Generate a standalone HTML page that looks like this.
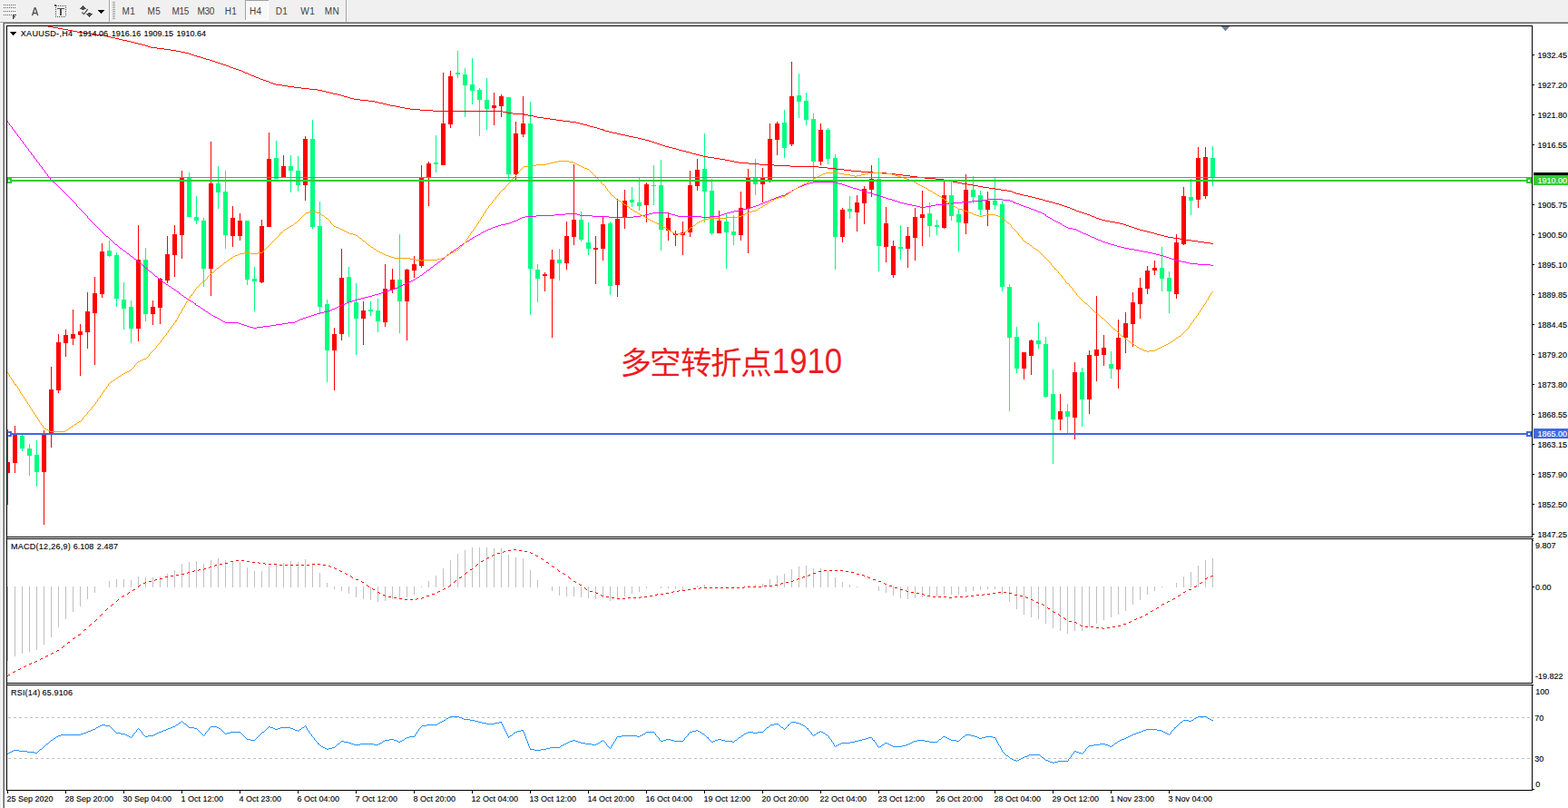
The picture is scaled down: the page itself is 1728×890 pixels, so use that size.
<!DOCTYPE html>
<html><head><meta charset="utf-8"><title>XAUUSD H4</title>
<style>
html,body{margin:0;padding:0;background:#fff;}
body{width:1728px;height:890px;overflow:hidden;font-family:"Liberation Sans",sans-serif;}
svg{display:block;position:absolute;left:0;top:0;}
text{font-family:"Liberation Sans",sans-serif;}
.t9{font-size:9px;fill:#000;stroke:#000;stroke-width:0.12px;}
.tb{font-size:10px;fill:#404040;letter-spacing:0.35px;}
</style></head><body>
<svg width="1728" height="890" viewBox="0 0 1728 890">
<rect width="1728" height="890" fill="#fff"/>
<g shape-rendering="crispEdges">
<rect x="0" y="0" width="1728" height="24" fill="#f0f0f0"/>
<rect x="0" y="23" width="1728" height="1" fill="#f5f5f5"/>
<rect x="0" y="24" width="1728" height="1" fill="#a0a0a0"/>
<rect x="4" y="25" width="1724" height="1" fill="#696969"/>
<rect x="0" y="26" width="2" height="864" fill="#f0f0f0"/>
<rect x="3" y="24" width="1" height="866" fill="#a0a0a0"/>
<rect x="4" y="25" width="1" height="865" fill="#696969"/>
<rect x="120" y="0" width="1" height="24" fill="#a0a0a0"/><rect x="121" y="0" width="1" height="24" fill="#fff"/>
<rect x="381" y="0" width="1" height="24" fill="#a0a0a0"/><rect x="382" y="0" width="1" height="24" fill="#fff"/>
<rect x="124" y="2" width="3" height="1" fill="#a0a0a0"/><rect x="124" y="4" width="3" height="1" fill="#a0a0a0"/><rect x="124" y="6" width="3" height="1" fill="#a0a0a0"/><rect x="124" y="8" width="3" height="1" fill="#a0a0a0"/><rect x="124" y="10" width="3" height="1" fill="#a0a0a0"/><rect x="124" y="12" width="3" height="1" fill="#a0a0a0"/><rect x="124" y="14" width="3" height="1" fill="#a0a0a0"/><rect x="124" y="16" width="3" height="1" fill="#a0a0a0"/><rect x="124" y="18" width="3" height="1" fill="#a0a0a0"/><rect x="124" y="20" width="3" height="1" fill="#a0a0a0"/>
<rect x="270" y="0" width="26" height="22" fill="#f8f8f8"/>
<rect x="270" y="0" width="1" height="22" fill="#a0a0a0"/><rect x="270" y="0" width="26" height="1" fill="#a0a0a0"/>
<rect x="295" y="1" width="1" height="21" fill="#fff"/><rect x="271" y="21" width="25" height="1" fill="#fff"/>
<rect x="4" y="5" width="1" height="1" fill="#606060"/><rect x="6" y="5" width="1" height="1" fill="#606060"/><rect x="8" y="5" width="1" height="1" fill="#606060"/><rect x="10" y="5" width="1" height="1" fill="#606060"/><rect x="12" y="5" width="1" height="1" fill="#606060"/><rect x="14" y="5" width="1" height="1" fill="#606060"/><rect x="16" y="5" width="1" height="1" fill="#606060"/><rect x="4" y="8" width="1" height="1" fill="#606060"/><rect x="6" y="8" width="1" height="1" fill="#606060"/><rect x="8" y="8" width="1" height="1" fill="#606060"/><rect x="10" y="8" width="1" height="1" fill="#606060"/><rect x="12" y="8" width="1" height="1" fill="#606060"/><rect x="14" y="8" width="1" height="1" fill="#606060"/><rect x="16" y="8" width="1" height="1" fill="#606060"/><rect x="4" y="12" width="1" height="1" fill="#606060"/><rect x="6" y="12" width="1" height="1" fill="#606060"/><rect x="8" y="12" width="1" height="1" fill="#606060"/><rect x="10" y="12" width="1" height="1" fill="#606060"/><rect x="12" y="12" width="1" height="1" fill="#606060"/><rect x="14" y="12" width="1" height="1" fill="#606060"/><rect x="16" y="12" width="1" height="1" fill="#606060"/><rect x="4" y="16" width="1" height="1" fill="#606060"/><rect x="6" y="16" width="1" height="1" fill="#606060"/><rect x="8" y="16" width="1" height="1" fill="#606060"/><rect x="10" y="16" width="1" height="1" fill="#606060"/><rect x="12" y="16" width="1" height="1" fill="#606060"/>
<rect x="64" y="6" width="1" height="1" fill="#505050"/><rect x="66" y="6" width="1" height="1" fill="#505050"/><rect x="68" y="6" width="1" height="1" fill="#505050"/><rect x="70" y="6" width="1" height="1" fill="#505050"/><rect x="72" y="6" width="1" height="1" fill="#505050"/><rect x="60" y="5" width="2" height="2" fill="#505050"/><rect x="62" y="6" width="1" height="1" fill="#505050"/><rect x="61" y="8" width="1" height="1" fill="#505050"/><rect x="61" y="10" width="1" height="1" fill="#505050"/><rect x="61" y="12" width="1" height="1" fill="#505050"/><rect x="61" y="14" width="1" height="1" fill="#505050"/><rect x="61" y="16" width="1" height="1" fill="#505050"/><rect x="61" y="18" width="1" height="1" fill="#505050"/><rect x="72" y="8" width="1" height="1" fill="#505050"/><rect x="72" y="10" width="1" height="1" fill="#505050"/><rect x="72" y="12" width="1" height="1" fill="#505050"/><rect x="72" y="14" width="1" height="1" fill="#505050"/><rect x="72" y="16" width="1" height="1" fill="#505050"/><rect x="63" y="18" width="1" height="1" fill="#505050"/><rect x="65" y="18" width="1" height="1" fill="#505050"/><rect x="67" y="18" width="1" height="1" fill="#505050"/><rect x="69" y="18" width="1" height="1" fill="#505050"/><rect x="71" y="18" width="1" height="1" fill="#505050"/><rect x="63" y="9" width="8" height="1" fill="#505050"/><rect x="66" y="10" width="2" height="7" fill="#505050"/><rect x="14" y="16" width="4" height="1" fill="#404040"/><rect x="14" y="18" width="3" height="1" fill="#404040"/>
</g>
<rect x="14" y="16" width="1.4" height="5" fill="#404040"/>
<path d="M35.5 17.1 L38.25 8.6 L38.95 8.6 L41.7 17.1 M36.7 14.5 L40.5 14.5" fill="none" stroke="#505050" stroke-width="1.4" stroke-linejoin="round"/>
<g shape-rendering="crispEdges" fill="#505050"><rect x="91" y="6" width="1" height="1"/><rect x="90" y="7" width="3" height="1"/><rect x="89" y="8" width="5" height="1"/><rect x="88" y="9" width="7" height="1"/><rect x="90" y="10" width="3" height="1"/><rect x="98" y="18" width="1" height="1"/><rect x="97" y="17" width="3" height="1"/><rect x="96" y="16" width="5" height="1"/><rect x="95" y="15" width="7" height="1"/><rect x="97" y="14" width="3" height="1"/></g>
<path d="M90.3 13.5 L92.5 15.6 L96.7 10.1" fill="none" stroke="#505050" stroke-width="1.3"/>
<g shape-rendering="crispEdges" fill="#000"><rect x="111" y="14" width="1" height="1"/><rect x="110" y="13" width="3" height="1"/><rect x="109" y="12" width="5" height="1"/><rect x="108" y="11" width="7" height="1"/></g>
<text class="tb" x="141.9" y="16.2" text-anchor="middle">M1</text><text class="tb" x="169.9" y="16.2" text-anchor="middle">M5</text><text class="tb" x="198.7" y="16.2" text-anchor="middle" style="letter-spacing:-0.3px">M15</text><text class="tb" x="226.8" y="16.2" text-anchor="middle" style="letter-spacing:-0.3px">M30</text><text class="tb" x="254.4" y="16.2" text-anchor="middle">H1</text><text class="tb" x="281.8" y="16.2" text-anchor="middle">H4</text><text class="tb" x="310.5" y="16.2" text-anchor="middle">D1</text><text class="tb" x="339.2" y="16.2" text-anchor="middle">W1</text><text class="tb" x="366" y="16.2" text-anchor="middle">MN</text>
<g shape-rendering="crispEdges" fill="#000">
<rect x="7" y="28" width="1" height="843"/><rect x="1688" y="28" width="1" height="564"/><rect x="1688" y="593" width="1" height="160"/><rect x="1688" y="754" width="1" height="117"/><rect x="7" y="28" width="1682" height="1"/><rect x="7" y="591" width="1682" height="1"/><rect x="7" y="593" width="1683" height="1"/><rect x="7" y="752" width="1682" height="1"/><rect x="7" y="754" width="1683" height="1"/><rect x="7" y="870" width="1682" height="1"/><rect x="1689" y="60" width="2" height="1"/><rect x="1689" y="93" width="2" height="1"/><rect x="1689" y="126" width="2" height="1"/><rect x="1689" y="159" width="2" height="1"/><rect x="1689" y="225" width="2" height="1"/><rect x="1689" y="258" width="2" height="1"/><rect x="1689" y="291" width="2" height="1"/><rect x="1689" y="324" width="2" height="1"/><rect x="1689" y="357" width="2" height="1"/><rect x="1689" y="390" width="2" height="1"/><rect x="1689" y="423" width="2" height="1"/><rect x="1689" y="456" width="2" height="1"/><rect x="1689" y="489" width="2" height="1"/><rect x="1689" y="522" width="2" height="1"/><rect x="1689" y="555" width="2" height="1"/><rect x="1689" y="588" width="2" height="1"/><rect x="1689" y="646" width="2" height="1"/><rect x="1689" y="595" width="1" height="1"/><rect x="1689" y="869" width="2" height="1"/><rect x="8" y="871" width="1" height="3"/><rect x="72" y="871" width="1" height="3"/><rect x="136" y="871" width="1" height="3"/><rect x="200" y="871" width="1" height="3"/><rect x="264" y="871" width="1" height="3"/><rect x="328" y="871" width="1" height="3"/><rect x="392" y="871" width="1" height="3"/><rect x="456" y="871" width="1" height="3"/><rect x="520" y="871" width="1" height="3"/><rect x="584" y="871" width="1" height="3"/><rect x="648" y="871" width="1" height="3"/><rect x="712" y="871" width="1" height="3"/><rect x="776" y="871" width="1" height="3"/><rect x="840" y="871" width="1" height="3"/><rect x="904" y="871" width="1" height="3"/><rect x="968" y="871" width="1" height="3"/><rect x="1032" y="871" width="1" height="3"/><rect x="1096" y="871" width="1" height="3"/><rect x="1160" y="871" width="1" height="3"/><rect x="1224" y="871" width="1" height="3"/><rect x="1288" y="871" width="1" height="3"/></g>
<path d="M1345.7 29 L1355.4 29 L1350.55 34.3 Z" fill="#708090"/>
<g shape-rendering="crispEdges">
<rect x="8" y="473" width="1" height="83" fill="#ff0000"/><rect x="8" y="509" width="3" height="12" fill="#ff0000"/>
<rect x="16" y="469" width="1" height="52" fill="#ff0000"/><rect x="14" y="479" width="5" height="31" fill="#ff0000"/>
<rect x="24" y="479" width="1" height="18" fill="#00ff7f"/><rect x="22" y="480" width="5" height="14" fill="#00ff7f"/>
<rect x="32" y="489" width="1" height="35" fill="#00ff7f"/><rect x="30" y="494" width="5" height="8" fill="#00ff7f"/>
<rect x="40" y="485" width="1" height="51" fill="#00ff7f"/><rect x="38" y="501" width="5" height="19" fill="#00ff7f"/>
<rect x="48" y="474" width="1" height="104" fill="#ff0000"/><rect x="46" y="479" width="5" height="41" fill="#ff0000"/>
<rect x="56" y="404" width="1" height="89" fill="#ff0000"/><rect x="54" y="429" width="5" height="48" fill="#ff0000"/>
<rect x="64" y="368" width="1" height="65" fill="#ff0000"/><rect x="62" y="377" width="5" height="53" fill="#ff0000"/>
<rect x="72" y="363" width="1" height="30" fill="#ff0000"/><rect x="70" y="369" width="5" height="9" fill="#ff0000"/>
<rect x="80" y="341" width="1" height="39" fill="#ff0000"/><rect x="78" y="368" width="5" height="5" fill="#ff0000"/>
<rect x="88" y="357" width="1" height="57" fill="#ff0000"/><rect x="86" y="365" width="5" height="4" fill="#ff0000"/>
<rect x="96" y="322" width="1" height="62" fill="#ff0000"/><rect x="94" y="343" width="5" height="23" fill="#ff0000"/>
<rect x="104" y="305" width="1" height="97" fill="#ff0000"/><rect x="102" y="323" width="5" height="22" fill="#ff0000"/>
<rect x="112" y="268" width="1" height="60" fill="#ff0000"/><rect x="110" y="277" width="5" height="47" fill="#ff0000"/>
<rect x="120" y="265" width="1" height="18" fill="#00ff7f"/><rect x="118" y="276" width="5" height="6" fill="#00ff7f"/>
<rect x="128" y="278" width="1" height="60" fill="#00ff7f"/><rect x="126" y="281" width="5" height="48" fill="#00ff7f"/>
<rect x="136" y="311" width="1" height="52" fill="#00ff7f"/><rect x="134" y="330" width="5" height="10" fill="#00ff7f"/>
<rect x="144" y="331" width="1" height="47" fill="#00ff7f"/><rect x="142" y="338" width="5" height="24" fill="#00ff7f"/>
<rect x="152" y="248" width="1" height="128" fill="#ff0000"/><rect x="150" y="286" width="5" height="76" fill="#ff0000"/>
<rect x="160" y="273" width="1" height="81" fill="#00ff7f"/><rect x="158" y="286" width="5" height="60" fill="#00ff7f"/>
<rect x="168" y="331" width="1" height="27" fill="#ff0000"/><rect x="166" y="338" width="5" height="8" fill="#ff0000"/>
<rect x="176" y="306" width="1" height="51" fill="#ff0000"/><rect x="174" y="307" width="5" height="32" fill="#ff0000"/>
<rect x="184" y="260" width="1" height="52" fill="#ff0000"/><rect x="182" y="280" width="5" height="29" fill="#ff0000"/>
<rect x="192" y="248" width="1" height="57" fill="#ff0000"/><rect x="190" y="258" width="5" height="23" fill="#ff0000"/>
<rect x="200" y="188" width="1" height="97" fill="#ff0000"/><rect x="198" y="195" width="5" height="64" fill="#ff0000"/>
<rect x="208" y="190" width="1" height="49" fill="#00ff7f"/><rect x="206" y="195" width="5" height="44" fill="#00ff7f"/>
<rect x="216" y="216" width="1" height="31" fill="#00ff7f"/><rect x="214" y="239" width="5" height="4" fill="#00ff7f"/>
<rect x="224" y="240" width="1" height="76" fill="#00ff7f"/><rect x="222" y="243" width="5" height="53" fill="#00ff7f"/>
<rect x="232" y="156" width="1" height="170" fill="#ff0000"/><rect x="230" y="202" width="5" height="94" fill="#ff0000"/>
<rect x="240" y="183" width="1" height="47" fill="#00ff7f"/><rect x="238" y="202" width="5" height="10" fill="#00ff7f"/>
<rect x="248" y="188" width="1" height="86" fill="#00ff7f"/><rect x="246" y="211" width="5" height="48" fill="#00ff7f"/>
<rect x="256" y="227" width="1" height="45" fill="#ff0000"/><rect x="254" y="240" width="5" height="20" fill="#ff0000"/>
<rect x="264" y="235" width="1" height="30" fill="#ff0000"/><rect x="262" y="243" width="5" height="17" fill="#ff0000"/>
<rect x="272" y="243" width="1" height="71" fill="#00ff7f"/><rect x="270" y="243" width="5" height="65" fill="#00ff7f"/>
<rect x="280" y="294" width="1" height="49" fill="#00ff7f"/><rect x="278" y="307" width="5" height="3" fill="#00ff7f"/>
<rect x="288" y="242" width="1" height="70" fill="#ff0000"/><rect x="286" y="249" width="5" height="62" fill="#ff0000"/>
<rect x="296" y="146" width="1" height="104" fill="#ff0000"/><rect x="294" y="175" width="5" height="75" fill="#ff0000"/>
<rect x="304" y="155" width="1" height="42" fill="#00ff7f"/><rect x="302" y="174" width="5" height="23" fill="#00ff7f"/>
<rect x="312" y="171" width="1" height="25" fill="#ff0000"/><rect x="310" y="183" width="5" height="13" fill="#ff0000"/>
<rect x="320" y="171" width="1" height="41" fill="#00ff7f"/><rect x="318" y="183" width="5" height="5" fill="#00ff7f"/>
<rect x="328" y="172" width="1" height="39" fill="#00ff7f"/><rect x="326" y="188" width="5" height="16" fill="#00ff7f"/>
<rect x="336" y="150" width="1" height="71" fill="#ff0000"/><rect x="334" y="153" width="5" height="51" fill="#ff0000"/>
<rect x="344" y="132" width="1" height="120" fill="#00ff7f"/><rect x="342" y="153" width="5" height="97" fill="#00ff7f"/>
<rect x="352" y="222" width="1" height="123" fill="#00ff7f"/><rect x="350" y="249" width="5" height="89" fill="#00ff7f"/>
<rect x="360" y="330" width="1" height="91" fill="#00ff7f"/><rect x="358" y="335" width="5" height="51" fill="#00ff7f"/>
<rect x="368" y="361" width="1" height="69" fill="#ff0000"/><rect x="366" y="368" width="5" height="18" fill="#ff0000"/>
<rect x="376" y="274" width="1" height="101" fill="#ff0000"/><rect x="374" y="306" width="5" height="62" fill="#ff0000"/>
<rect x="384" y="294" width="1" height="77" fill="#00ff7f"/><rect x="382" y="305" width="5" height="28" fill="#00ff7f"/>
<rect x="392" y="312" width="1" height="79" fill="#00ff7f"/><rect x="390" y="333" width="5" height="18" fill="#00ff7f"/>
<rect x="400" y="332" width="1" height="48" fill="#ff0000"/><rect x="398" y="342" width="5" height="9" fill="#ff0000"/>
<rect x="408" y="332" width="1" height="16" fill="#00ff7f"/><rect x="406" y="341" width="5" height="2" fill="#00ff7f"/>
<rect x="416" y="329" width="1" height="37" fill="#00ff7f"/><rect x="414" y="342" width="5" height="12" fill="#00ff7f"/>
<rect x="424" y="291" width="1" height="69" fill="#ff0000"/><rect x="422" y="318" width="5" height="37" fill="#ff0000"/>
<rect x="432" y="296" width="1" height="27" fill="#ff0000"/><rect x="430" y="308" width="5" height="11" fill="#ff0000"/>
<rect x="440" y="258" width="1" height="109" fill="#00ff7f"/><rect x="438" y="308" width="5" height="24" fill="#00ff7f"/>
<rect x="448" y="296" width="1" height="79" fill="#ff0000"/><rect x="446" y="297" width="5" height="35" fill="#ff0000"/>
<rect x="456" y="282" width="1" height="24" fill="#ff0000"/><rect x="454" y="291" width="5" height="7" fill="#ff0000"/>
<rect x="464" y="182" width="1" height="113" fill="#ff0000"/><rect x="462" y="195" width="5" height="98" fill="#ff0000"/>
<rect x="472" y="178" width="1" height="49" fill="#ff0000"/><rect x="470" y="180" width="5" height="15" fill="#ff0000"/>
<rect x="480" y="149" width="1" height="41" fill="#00ff7f"/><rect x="478" y="179" width="5" height="2" fill="#00ff7f"/>
<rect x="488" y="80" width="1" height="102" fill="#ff0000"/><rect x="486" y="136" width="5" height="46" fill="#ff0000"/>
<rect x="496" y="78" width="1" height="63" fill="#ff0000"/><rect x="494" y="84" width="5" height="53" fill="#ff0000"/>
<rect x="504" y="56" width="1" height="30" fill="#00ff7f"/><rect x="502" y="80" width="5" height="2" fill="#00ff7f"/>
<rect x="512" y="75" width="1" height="54" fill="#00ff7f"/><rect x="510" y="82" width="5" height="12" fill="#00ff7f"/>
<rect x="520" y="64" width="1" height="51" fill="#00ff7f"/><rect x="518" y="93" width="5" height="7" fill="#00ff7f"/>
<rect x="528" y="97" width="1" height="53" fill="#00ff7f"/><rect x="526" y="99" width="5" height="11" fill="#00ff7f"/>
<rect x="536" y="86" width="1" height="57" fill="#00ff7f"/><rect x="534" y="110" width="5" height="10" fill="#00ff7f"/>
<rect x="544" y="102" width="1" height="36" fill="#ff0000"/><rect x="542" y="116" width="5" height="3" fill="#ff0000"/>
<rect x="552" y="104" width="1" height="25" fill="#ff0000"/><rect x="550" y="106" width="5" height="11" fill="#ff0000"/>
<rect x="560" y="107" width="1" height="90" fill="#00ff7f"/><rect x="558" y="107" width="5" height="85" fill="#00ff7f"/>
<rect x="568" y="134" width="1" height="64" fill="#ff0000"/><rect x="566" y="147" width="5" height="45" fill="#ff0000"/>
<rect x="576" y="106" width="1" height="45" fill="#ff0000"/><rect x="574" y="136" width="5" height="12" fill="#ff0000"/>
<rect x="584" y="112" width="1" height="235" fill="#00ff7f"/><rect x="582" y="136" width="5" height="160" fill="#00ff7f"/>
<rect x="592" y="291" width="1" height="42" fill="#00ff7f"/><rect x="590" y="297" width="5" height="10" fill="#00ff7f"/>
<rect x="600" y="300" width="1" height="21" fill="#ff0000"/><rect x="598" y="302" width="5" height="2" fill="#ff0000"/>
<rect x="608" y="275" width="1" height="97" fill="#ff0000"/><rect x="606" y="286" width="5" height="21" fill="#ff0000"/>
<rect x="616" y="274" width="1" height="35" fill="#00ff7f"/><rect x="614" y="286" width="5" height="4" fill="#00ff7f"/>
<rect x="624" y="244" width="1" height="53" fill="#ff0000"/><rect x="622" y="260" width="5" height="30" fill="#ff0000"/>
<rect x="632" y="181" width="1" height="89" fill="#ff0000"/><rect x="630" y="242" width="5" height="19" fill="#ff0000"/>
<rect x="640" y="233" width="1" height="33" fill="#00ff7f"/><rect x="638" y="242" width="5" height="22" fill="#00ff7f"/>
<rect x="648" y="245" width="1" height="36" fill="#00ff7f"/><rect x="646" y="267" width="5" height="7" fill="#00ff7f"/>
<rect x="656" y="260" width="1" height="53" fill="#ff0000"/><rect x="654" y="273" width="5" height="2" fill="#ff0000"/>
<rect x="664" y="239" width="1" height="48" fill="#ff0000"/><rect x="662" y="247" width="5" height="27" fill="#ff0000"/>
<rect x="672" y="244" width="1" height="81" fill="#00ff7f"/><rect x="670" y="246" width="5" height="69" fill="#00ff7f"/>
<rect x="680" y="219" width="1" height="108" fill="#ff0000"/><rect x="678" y="241" width="5" height="73" fill="#ff0000"/>
<rect x="688" y="209" width="1" height="43" fill="#ff0000"/><rect x="686" y="221" width="5" height="19" fill="#ff0000"/>
<rect x="696" y="206" width="1" height="22" fill="#00ff7f"/><rect x="694" y="220" width="5" height="3" fill="#00ff7f"/>
<rect x="704" y="196" width="1" height="36" fill="#00ff7f"/><rect x="702" y="223" width="5" height="4" fill="#00ff7f"/>
<rect x="712" y="201" width="1" height="44" fill="#ff0000"/><rect x="710" y="203" width="5" height="23" fill="#ff0000"/>
<rect x="720" y="182" width="1" height="44" fill="#00ff7f"/><rect x="718" y="204" width="5" height="1" fill="#00ff7f"/>
<rect x="728" y="176" width="1" height="100" fill="#00ff7f"/><rect x="726" y="204" width="5" height="49" fill="#00ff7f"/>
<rect x="736" y="234" width="1" height="31" fill="#ff0000"/><rect x="734" y="240" width="5" height="14" fill="#ff0000"/>
<rect x="744" y="254" width="1" height="17" fill="#ff0000"/><rect x="742" y="257" width="5" height="2" fill="#ff0000"/>
<rect x="752" y="244" width="1" height="37" fill="#ff0000"/><rect x="750" y="256" width="5" height="3" fill="#ff0000"/>
<rect x="760" y="188" width="1" height="73" fill="#ff0000"/><rect x="758" y="204" width="5" height="52" fill="#ff0000"/>
<rect x="768" y="175" width="1" height="35" fill="#ff0000"/><rect x="766" y="187" width="5" height="18" fill="#ff0000"/>
<rect x="776" y="147" width="1" height="98" fill="#00ff7f"/><rect x="774" y="186" width="5" height="25" fill="#00ff7f"/>
<rect x="784" y="197" width="1" height="62" fill="#00ff7f"/><rect x="782" y="210" width="5" height="47" fill="#00ff7f"/>
<rect x="792" y="232" width="1" height="25" fill="#ff0000"/><rect x="790" y="243" width="5" height="14" fill="#ff0000"/>
<rect x="800" y="236" width="1" height="60" fill="#00ff7f"/><rect x="798" y="244" width="5" height="12" fill="#00ff7f"/>
<rect x="808" y="237" width="1" height="33" fill="#00ff7f"/><rect x="806" y="255" width="5" height="4" fill="#00ff7f"/>
<rect x="816" y="211" width="1" height="54" fill="#ff0000"/><rect x="814" y="229" width="5" height="30" fill="#ff0000"/>
<rect x="824" y="186" width="1" height="93" fill="#ff0000"/><rect x="822" y="195" width="5" height="35" fill="#ff0000"/>
<rect x="832" y="175" width="1" height="40" fill="#00ff7f"/><rect x="830" y="195" width="5" height="8" fill="#00ff7f"/>
<rect x="840" y="185" width="1" height="38" fill="#ff0000"/><rect x="838" y="196" width="5" height="7" fill="#ff0000"/>
<rect x="848" y="136" width="1" height="65" fill="#ff0000"/><rect x="846" y="153" width="5" height="45" fill="#ff0000"/>
<rect x="856" y="134" width="1" height="37" fill="#ff0000"/><rect x="854" y="136" width="5" height="18" fill="#ff0000"/>
<rect x="864" y="121" width="1" height="53" fill="#00ff7f"/><rect x="862" y="135" width="5" height="28" fill="#00ff7f"/>
<rect x="872" y="68" width="1" height="93" fill="#ff0000"/><rect x="870" y="106" width="5" height="53" fill="#ff0000"/>
<rect x="880" y="81" width="1" height="49" fill="#00ff7f"/><rect x="878" y="105" width="5" height="7" fill="#00ff7f"/>
<rect x="888" y="102" width="1" height="36" fill="#00ff7f"/><rect x="886" y="111" width="5" height="21" fill="#00ff7f"/>
<rect x="896" y="125" width="1" height="72" fill="#00ff7f"/><rect x="894" y="131" width="5" height="47" fill="#00ff7f"/>
<rect x="904" y="136" width="1" height="46" fill="#ff0000"/><rect x="902" y="143" width="5" height="35" fill="#ff0000"/>
<rect x="912" y="141" width="1" height="40" fill="#00ff7f"/><rect x="910" y="143" width="5" height="32" fill="#00ff7f"/>
<rect x="920" y="170" width="1" height="127" fill="#00ff7f"/><rect x="918" y="174" width="5" height="87" fill="#00ff7f"/>
<rect x="928" y="229" width="1" height="38" fill="#ff0000"/><rect x="926" y="231" width="5" height="30" fill="#ff0000"/>
<rect x="936" y="216" width="1" height="25" fill="#00ff7f"/><rect x="934" y="230" width="5" height="3" fill="#00ff7f"/>
<rect x="944" y="215" width="1" height="40" fill="#ff0000"/><rect x="942" y="223" width="5" height="11" fill="#ff0000"/>
<rect x="952" y="205" width="1" height="42" fill="#ff0000"/><rect x="950" y="208" width="5" height="16" fill="#ff0000"/>
<rect x="960" y="182" width="1" height="35" fill="#ff0000"/><rect x="958" y="197" width="5" height="12" fill="#ff0000"/>
<rect x="968" y="174" width="1" height="125" fill="#00ff7f"/><rect x="966" y="197" width="5" height="74" fill="#00ff7f"/>
<rect x="976" y="228" width="1" height="61" fill="#ff0000"/><rect x="974" y="246" width="5" height="26" fill="#ff0000"/>
<rect x="984" y="265" width="1" height="41" fill="#ff0000"/><rect x="982" y="271" width="5" height="32" fill="#ff0000"/>
<rect x="992" y="248" width="1" height="38" fill="#00ff7f"/><rect x="990" y="272" width="5" height="2" fill="#00ff7f"/>
<rect x="1000" y="250" width="1" height="45" fill="#ff0000"/><rect x="998" y="260" width="5" height="14" fill="#ff0000"/>
<rect x="1008" y="229" width="1" height="58" fill="#ff0000"/><rect x="1006" y="239" width="5" height="23" fill="#ff0000"/>
<rect x="1016" y="210" width="1" height="61" fill="#ff0000"/><rect x="1014" y="236" width="5" height="4" fill="#ff0000"/>
<rect x="1024" y="223" width="1" height="38" fill="#00ff7f"/><rect x="1022" y="235" width="5" height="14" fill="#00ff7f"/>
<rect x="1032" y="242" width="1" height="17" fill="#00ff7f"/><rect x="1030" y="248" width="5" height="2" fill="#00ff7f"/>
<rect x="1040" y="200" width="1" height="52" fill="#ff0000"/><rect x="1038" y="215" width="5" height="36" fill="#ff0000"/>
<rect x="1048" y="200" width="1" height="43" fill="#00ff7f"/><rect x="1046" y="215" width="5" height="23" fill="#00ff7f"/>
<rect x="1056" y="231" width="1" height="46" fill="#00ff7f"/><rect x="1054" y="236" width="5" height="9" fill="#00ff7f"/>
<rect x="1064" y="192" width="1" height="66" fill="#ff0000"/><rect x="1062" y="209" width="5" height="37" fill="#ff0000"/>
<rect x="1072" y="194" width="1" height="30" fill="#00ff7f"/><rect x="1070" y="209" width="5" height="8" fill="#00ff7f"/>
<rect x="1080" y="210" width="1" height="27" fill="#00ff7f"/><rect x="1078" y="215" width="5" height="16" fill="#00ff7f"/>
<rect x="1088" y="211" width="1" height="38" fill="#ff0000"/><rect x="1086" y="221" width="5" height="10" fill="#ff0000"/>
<rect x="1096" y="196" width="1" height="35" fill="#00ff7f"/><rect x="1094" y="221" width="5" height="5" fill="#00ff7f"/>
<rect x="1104" y="221" width="1" height="100" fill="#00ff7f"/><rect x="1102" y="225" width="5" height="91" fill="#00ff7f"/>
<rect x="1112" y="313" width="1" height="140" fill="#00ff7f"/><rect x="1110" y="316" width="5" height="56" fill="#00ff7f"/>
<rect x="1120" y="360" width="1" height="51" fill="#00ff7f"/><rect x="1118" y="371" width="5" height="35" fill="#00ff7f"/>
<rect x="1128" y="388" width="1" height="30" fill="#ff0000"/><rect x="1126" y="388" width="5" height="18" fill="#ff0000"/>
<rect x="1136" y="374" width="1" height="39" fill="#ff0000"/><rect x="1134" y="375" width="5" height="17" fill="#ff0000"/>
<rect x="1144" y="355" width="1" height="29" fill="#00ff7f"/><rect x="1142" y="375" width="5" height="4" fill="#00ff7f"/>
<rect x="1152" y="371" width="1" height="67" fill="#00ff7f"/><rect x="1150" y="379" width="5" height="58" fill="#00ff7f"/>
<rect x="1160" y="407" width="1" height="104" fill="#00ff7f"/><rect x="1158" y="434" width="5" height="28" fill="#00ff7f"/>
<rect x="1168" y="434" width="1" height="40" fill="#ff0000"/><rect x="1166" y="453" width="5" height="9" fill="#ff0000"/>
<rect x="1176" y="445" width="1" height="32" fill="#00ff7f"/><rect x="1174" y="453" width="5" height="6" fill="#00ff7f"/>
<rect x="1184" y="399" width="1" height="85" fill="#ff0000"/><rect x="1182" y="410" width="5" height="50" fill="#ff0000"/>
<rect x="1192" y="405" width="1" height="65" fill="#00ff7f"/><rect x="1190" y="410" width="5" height="30" fill="#00ff7f"/>
<rect x="1200" y="386" width="1" height="70" fill="#ff0000"/><rect x="1198" y="391" width="5" height="49" fill="#ff0000"/>
<rect x="1208" y="326" width="1" height="94" fill="#ff0000"/><rect x="1206" y="385" width="5" height="7" fill="#ff0000"/>
<rect x="1216" y="369" width="1" height="34" fill="#ff0000"/><rect x="1214" y="383" width="5" height="8" fill="#ff0000"/>
<rect x="1224" y="387" width="1" height="30" fill="#00ff7f"/><rect x="1222" y="401" width="5" height="5" fill="#00ff7f"/>
<rect x="1232" y="352" width="1" height="76" fill="#ff0000"/><rect x="1230" y="372" width="5" height="35" fill="#ff0000"/>
<rect x="1240" y="344" width="1" height="45" fill="#ff0000"/><rect x="1238" y="356" width="5" height="16" fill="#ff0000"/>
<rect x="1248" y="322" width="1" height="60" fill="#ff0000"/><rect x="1246" y="333" width="5" height="24" fill="#ff0000"/>
<rect x="1256" y="306" width="1" height="45" fill="#ff0000"/><rect x="1254" y="317" width="5" height="18" fill="#ff0000"/>
<rect x="1264" y="293" width="1" height="31" fill="#ff0000"/><rect x="1262" y="298" width="5" height="20" fill="#ff0000"/>
<rect x="1272" y="287" width="1" height="16" fill="#ff0000"/><rect x="1270" y="295" width="5" height="3" fill="#ff0000"/>
<rect x="1280" y="272" width="1" height="49" fill="#00ff7f"/><rect x="1278" y="295" width="5" height="12" fill="#00ff7f"/>
<rect x="1288" y="299" width="1" height="46" fill="#00ff7f"/><rect x="1286" y="306" width="5" height="15" fill="#00ff7f"/>
<rect x="1296" y="258" width="1" height="71" fill="#ff0000"/><rect x="1294" y="267" width="5" height="57" fill="#ff0000"/>
<rect x="1304" y="206" width="1" height="64" fill="#ff0000"/><rect x="1302" y="216" width="5" height="53" fill="#ff0000"/>
<rect x="1312" y="197" width="1" height="40" fill="#00ff7f"/><rect x="1310" y="217" width="5" height="4" fill="#00ff7f"/>
<rect x="1320" y="162" width="1" height="67" fill="#ff0000"/><rect x="1318" y="174" width="5" height="46" fill="#ff0000"/>
<rect x="1328" y="162" width="1" height="57" fill="#ff0000"/><rect x="1326" y="173" width="5" height="43" fill="#ff0000"/>
<rect x="1336" y="161" width="1" height="44" fill="#00ff7f"/><rect x="1334" y="174" width="5" height="22" fill="#00ff7f"/>
</g>
<path shape-rendering="crispEdges" fill="#ff0000" d="M53 29h5v1h-5zM58 30h6v1h-6zM64 31h5v1h-5zM69 32h6v1h-6zM75 33h5v1h-5zM80 34h5v1h-5zM85 35h6v1h-6zM91 36h8v1h-8zM99 37h7v1h-7zM106 38h8v1h-8zM114 39h5v1h-5zM118 40h4v1h-4zM122 41h5v1h-5zM127 42h4v1h-4zM131 43h4v1h-4zM135 44h5v1h-5zM140 45h4v1h-4zM144 46h4v1h-4zM148 47h4v1h-4zM152 48h4v1h-4zM156 49h4v1h-4zM160 50h3v1h-3zM163 51h3v1h-3zM166 52h7v1h-7zM173 53h8v1h-8zM181 54h7v1h-7zM188 55h6v1h-6zM194 56h5v1h-5zM199 57h5v1h-5zM204 58h4v1h-4zM208 59h3v1h-3zM211 60h3v1h-3zM214 61h3v1h-3zM217 62h4v1h-4zM221 63h3v1h-3zM224 64h3v1h-3zM227 65h4v1h-4zM231 66h3v1h-3zM234 67h3v1h-3zM237 68h3v1h-3zM240 69h3v1h-3zM243 70h3v1h-3zM246 71h3v1h-3zM249 72h3v1h-3zM252 73h2v1h-2zM254 74h3v1h-3zM257 75h3v1h-3zM260 76h3v1h-3zM263 77h3v1h-3zM266 78h2v1h-2zM268 79h2v1h-2zM270 80h3v1h-3zM273 81h2v1h-2zM275 82h2v1h-2zM277 83h3v1h-3zM280 84h2v1h-2zM282 85h3v1h-3zM285 86h2v1h-2zM287 87h3v1h-3zM290 88h3v1h-3zM293 89h3v1h-3zM296 90h2v1h-2zM298 91h3v1h-3zM301 92h3v1h-3zM304 93h7v1h-7zM311 94h6v1h-6zM317 95h7v1h-7zM324 96h8v1h-8zM332 97h9v1h-9zM341 98h9v1h-9zM350 99h5v1h-5zM355 100h4v1h-4zM359 101h4v1h-4zM363 102h4v1h-4zM367 103h5v1h-5zM372 104h4v1h-4zM376 105h3v1h-3zM379 106h4v1h-4zM383 107h3v1h-3zM386 108h4v1h-4zM390 109h7v1h-7zM397 110h9v1h-9zM406 111h7v1h-7zM413 112h4v1h-4zM417 113h5v1h-5zM422 114h4v1h-4zM426 115h4v1h-4zM430 116h6v1h-6zM436 117h5v1h-5zM441 118h5v1h-5zM446 119h6v1h-6zM452 120h11v1h-11zM463 121h14v1h-14zM477 122h77v1h-77zM554 123h5v1h-5zM559 124h6v1h-6zM565 125h13v1h-13zM577 126h5v1h-5zM582 127h6v1h-6zM588 128h4v1h-4zM592 129h7v1h-7zM599 130h7v1h-7zM606 131h7v1h-7zM613 132h7v1h-7zM620 133h8v1h-8zM628 134h7v1h-7zM635 135h4v1h-4zM639 136h4v1h-4zM643 137h4v1h-4zM647 138h3v1h-3zM650 139h4v1h-4zM654 140h4v1h-4zM658 141h3v1h-3zM661 142h4v1h-4zM664 143h3v1h-3zM667 144h4v1h-4zM671 145h4v1h-4zM675 146h5v1h-5zM680 147h4v1h-4zM684 148h5v1h-5zM689 149h4v1h-4zM693 150h5v1h-5zM698 151h5v1h-5zM703 152h4v1h-4zM707 153h4v1h-4zM711 154h4v1h-4zM715 155h3v1h-3zM718 156h3v1h-3zM721 157h3v1h-3zM724 158h3v1h-3zM727 159h3v1h-3zM730 160h3v1h-3zM733 161h4v1h-4zM737 162h4v1h-4zM741 163h4v1h-4zM745 164h3v1h-3zM748 165h4v1h-4zM752 166h4v1h-4zM756 167h4v1h-4zM760 168h3v1h-3zM763 169h4v1h-4zM767 170h4v1h-4zM771 171h4v1h-4zM775 172h5v1h-5zM780 173h7v1h-7zM787 174h6v1h-6zM793 175h6v1h-6zM799 176h5v1h-5zM804 177h5v1h-5zM809 178h5v1h-5zM814 179h11v1h-11zM825 180h12v1h-12zM837 181h16v1h-16zM853 182h18v1h-18zM871 183h31v1h-31zM902 184h10v1h-10zM912 185h9v1h-9zM921 186h9v1h-9zM930 187h8v1h-8zM938 188h11v1h-11zM949 189h13v1h-13zM962 190h15v1h-15zM977 191h10v1h-10zM987 192h8v1h-8zM995 193h8v1h-8zM1003 194h8v1h-8zM1011 195h8v1h-8zM1019 196h12v1h-12zM1031 197h9v1h-9zM1040 198h5v1h-5zM1045 199h5v1h-5zM1050 200h5v1h-5zM1055 201h5v1h-5zM1060 202h6v1h-6zM1066 203h6v1h-6zM1072 204h6v1h-6zM1078 205h5v1h-5zM1083 206h7v1h-7zM1090 207h7v1h-7zM1097 208h6v1h-6zM1103 209h7v1h-7zM1110 210h5v1h-5zM1115 211h2v1h-2zM1117 212h3v1h-3zM1120 213h4v1h-4zM1124 214h4v1h-4zM1128 215h5v1h-5zM1133 216h4v1h-4zM1137 217h4v1h-4zM1141 218h4v1h-4zM1145 219h4v1h-4zM1149 220h3v1h-3zM1152 221h4v1h-4zM1156 222h4v1h-4zM1160 223h3v1h-3zM1163 224h4v1h-4zM1167 225h3v1h-3zM1170 226h3v1h-3zM1173 227h3v1h-3zM1176 228h3v1h-3zM1179 229h2v1h-2zM1181 230h3v1h-3zM1184 231h2v1h-2zM1186 232h3v1h-3zM1189 233h3v1h-3zM1192 234h3v1h-3zM1195 235h3v1h-3zM1198 236h3v1h-3zM1201 237h2v1h-2zM1203 238h3v1h-3zM1206 239h2v1h-2zM1208 240h3v1h-3zM1211 241h3v1h-3zM1214 242h4v1h-4zM1218 243h5v1h-5zM1223 244h6v1h-6zM1229 245h5v1h-5zM1234 246h4v1h-4zM1238 247h3v1h-3zM1241 248h3v1h-3zM1244 249h3v1h-3zM1247 250h3v1h-3zM1250 251h3v1h-3zM1253 252h3v1h-3zM1256 253h4v1h-4zM1260 254h4v1h-4zM1264 255h4v1h-4zM1268 256h4v1h-4zM1272 257h3v1h-3zM1275 258h4v1h-4zM1279 259h4v1h-4zM1283 260h4v1h-4zM1287 261h6v1h-6zM1293 262h7v1h-7zM1300 263h7v1h-7zM1307 264h6v1h-6zM1313 265h7v1h-7zM1320 266h7v1h-7zM1327 267h7v1h-7zM1334 268h3v1h-3z"/>
<path shape-rendering="crispEdges" fill="#ff00ff" d="M8 133h1v2h-1zM9 135h1v1h-1zM10 136h1v2h-1zM11 138h1v1h-1zM12 139h1v1h-1zM13 140h1v2h-1zM14 142h1v1h-1zM15 143h1v1h-1zM16 144h1v2h-1zM17 146h1v1h-1zM18 147h1v1h-1zM19 148h1v2h-1zM20 150h1v1h-1zM21 151h1v1h-1zM22 152h1v2h-1zM23 154h1v1h-1zM24 155h1v1h-1zM25 156h1v2h-1zM26 158h1v1h-1zM27 159h1v1h-1zM28 160h1v2h-1zM29 162h1v1h-1zM30 163h1v1h-1zM31 164h1v2h-1zM32 166h1v1h-1zM33 167h1v1h-1zM34 168h1v2h-1zM35 170h1v1h-1zM36 171h1v1h-1zM37 172h1v2h-1zM38 174h1v1h-1zM39 175h1v1h-1zM40 176h1v2h-1zM41 178h1v1h-1zM42 179h1v1h-1zM43 180h1v2h-1zM44 182h1v1h-1zM45 183h1v1h-1zM46 184h1v2h-1zM47 186h1v1h-1zM48 187h1v1h-1zM49 188h1v2h-1zM50 190h1v1h-1zM51 191h1v1h-1zM52 192h1v2h-1zM53 194h1v1h-1zM54 195h1v1h-1zM55 196h1v2h-1zM56 198h1v1h-1zM57 199h1v1h-1zM58 200h2v1h-2zM60 201h1v1h-1zM61 202h1v1h-1zM62 203h1v1h-1zM63 204h1v1h-1zM64 205h1v1h-1zM65 206h1v1h-1zM66 207h1v1h-1zM67 208h1v1h-1zM68 209h1v1h-1zM69 210h1v1h-1zM70 211h1v1h-1zM71 212h1v1h-1zM72 213h1v1h-1zM73 214h1v1h-1zM74 215h1v1h-1zM75 216h1v1h-1zM76 217h1v1h-1zM77 218h1v1h-1zM78 219h1v1h-1zM79 220h1v1h-1zM80 221h1v1h-1zM81 222h1v1h-1zM82 223h1v1h-1zM83 224h1v1h-1zM84 225h1v2h-1zM85 227h1v1h-1zM86 228h1v1h-1zM87 229h1v1h-1zM88 230h1v1h-1zM89 231h1v1h-1zM90 232h1v1h-1zM91 233h1v1h-1zM92 234h1v1h-1zM93 235h1v1h-1zM94 236h1v1h-1zM95 237h1v1h-1zM96 238h1v2h-1zM97 240h1v1h-1zM98 241h1v1h-1zM99 242h1v1h-1zM100 243h1v1h-1zM101 244h1v1h-1zM102 245h1v1h-1zM103 246h1v1h-1zM104 247h1v1h-1zM105 248h1v1h-1zM106 249h1v1h-1zM107 250h1v1h-1zM108 251h1v1h-1zM109 252h1v1h-1zM110 253h1v1h-1zM111 254h1v1h-1zM112 255h1v1h-1zM113 256h1v1h-1zM114 257h1v1h-1zM115 258h1v1h-1zM116 259h1v1h-1zM117 260h2v1h-2zM119 261h1v1h-1zM120 262h1v1h-1zM121 263h1v1h-1zM122 264h1v1h-1zM123 265h1v1h-1zM124 266h1v1h-1zM125 267h1v1h-1zM126 268h1v1h-1zM127 269h2v1h-2zM129 270h1v1h-1zM130 271h1v1h-1zM131 272h1v1h-1zM132 273h2v1h-2zM134 274h1v1h-1zM135 275h1v1h-1zM136 276h2v1h-2zM138 277h1v1h-1zM139 278h1v1h-1zM140 279h2v1h-2zM142 280h1v1h-1zM143 281h1v1h-1zM144 282h2v1h-2zM146 283h1v1h-1zM147 284h1v1h-1zM148 285h2v1h-2zM150 286h1v1h-1zM151 287h1v1h-1zM152 288h1v1h-1zM153 289h1v1h-1zM154 290h2v1h-2zM156 291h1v1h-1zM157 292h1v1h-1zM158 293h1v1h-1zM159 294h1v1h-1zM160 295h2v1h-2zM162 296h1v1h-1zM163 297h1v1h-1zM164 298h1v1h-1zM165 299h2v1h-2zM167 300h1v1h-1zM168 301h1v1h-1zM169 302h1v1h-1zM170 303h1v1h-1zM171 304h2v1h-2zM173 305h1v1h-1zM174 306h1v1h-1zM175 307h1v1h-1zM176 308h2v1h-2zM178 309h1v1h-1zM179 310h1v1h-1zM180 311h2v1h-2zM182 312h1v1h-1zM183 313h2v1h-2zM185 314h1v1h-1zM186 315h2v1h-2zM188 316h1v1h-1zM189 317h2v1h-2zM191 318h1v1h-1zM192 319h2v1h-2zM194 320h1v1h-1zM195 321h2v1h-2zM197 322h1v1h-1zM197 323h2v1h-2zM199 324h1v1h-1zM200 325h2v1h-2zM202 326h1v1h-1zM203 327h2v1h-2zM205 328h1v1h-1zM206 329h2v1h-2zM208 330h1v1h-1zM209 331h2v1h-2zM211 332h2v1h-2zM213 333h1v1h-1zM214 334h2v1h-2zM215 335h1v1h-1zM216 336h2v1h-2zM218 337h2v1h-2zM220 338h1v1h-1zM221 339h2v1h-2zM223 340h1v1h-1zM224 341h2v1h-2zM226 342h1v1h-1zM227 343h2v1h-2zM229 344h1v1h-1zM230 345h2v1h-2zM232 346h1v1h-1zM233 347h2v1h-2zM235 348h2v1h-2zM237 349h2v1h-2zM239 350h2v1h-2zM241 351h2v1h-2zM243 352h1v1h-1zM244 353h2v1h-2zM246 354h2v1h-2zM248 355h15v1h-15zM263 356h3v1h-3zM266 357h3v1h-3zM269 358h3v1h-3zM272 359h3v1h-3zM275 360h4v1h-4zM279 361h4v1h-4zM283 360h7v1h-7zM290 359h8v1h-8zM298 358h6v1h-6zM304 357h7v1h-7zM311 356h6v1h-6zM317 355h8v1h-8zM325 354h2v1h-2zM327 353h2v1h-2zM329 352h2v1h-2zM331 351h3v1h-3zM334 350h3v1h-3zM337 349h3v1h-3zM340 348h3v1h-3zM343 347h3v1h-3zM346 346h3v1h-3zM349 345h4v1h-4zM353 344h4v1h-4zM357 343h4v1h-4zM361 342h3v1h-3zM364 341h2v1h-2zM366 340h3v1h-3zM369 339h2v1h-2zM371 338h2v1h-2zM373 337h2v1h-2zM375 336h2v1h-2zM377 335h3v1h-3zM380 334h2v1h-2zM382 333h3v1h-3zM385 332h3v1h-3zM388 331h3v1h-3zM391 330h3v1h-3zM394 329h4v1h-4zM398 328h4v1h-4zM402 327h4v1h-4zM406 326h4v1h-4zM410 325h3v1h-3zM413 324h4v1h-4zM417 323h3v1h-3zM420 322h2v1h-2zM422 321h3v1h-3zM425 320h4v1h-4zM429 319h4v1h-4zM433 318h2v1h-2zM435 317h3v1h-3zM438 316h2v1h-2zM440 315h2v1h-2zM442 314h2v1h-2zM444 313h2v1h-2zM446 312h3v1h-3zM449 311h2v1h-2zM451 310h2v1h-2zM453 309h2v1h-2zM455 308h2v1h-2zM457 307h1v1h-1zM458 306h2v1h-2zM460 305h2v1h-2zM462 304h1v1h-1zM463 303h2v1h-2zM465 302h1v1h-1zM466 301h1v1h-1zM467 300h2v1h-2zM469 299h1v1h-1zM470 298h1v1h-1zM471 297h2v1h-2zM473 296h1v1h-1zM474 295h1v1h-1zM475 294h2v1h-2zM477 293h1v1h-1zM478 292h1v1h-1zM479 291h2v1h-2zM481 290h1v1h-1zM482 289h1v1h-1zM483 288h2v1h-2zM485 287h1v1h-1zM486 286h1v1h-1zM487 285h2v1h-2zM489 284h1v1h-1zM490 283h1v1h-1zM491 282h1v1h-1zM492 281h1v1h-1zM493 280h2v1h-2zM495 279h1v1h-1zM496 278h1v1h-1zM497 277h2v1h-2zM499 276h1v1h-1zM500 275h2v1h-2zM502 274h1v1h-1zM503 273h2v1h-2zM505 272h1v1h-1zM506 271h1v1h-1zM507 270h2v1h-2zM509 269h1v1h-1zM510 268h2v1h-2zM512 267h1v1h-1zM513 266h2v1h-2zM515 265h2v1h-2zM517 264h1v1h-1zM518 263h2v1h-2zM520 262h1v1h-1zM521 261h2v1h-2zM523 260h2v1h-2zM525 259h2v1h-2zM527 258h2v1h-2zM529 257h1v1h-1zM530 256h2v1h-2zM532 255h2v1h-2zM534 254h2v1h-2zM536 253h2v1h-2zM538 252h3v1h-3zM541 251h2v1h-2zM543 250h3v1h-3zM546 249h3v1h-3zM549 248h3v1h-3zM552 247h5v1h-5zM557 246h4v1h-4zM561 245h3v1h-3zM564 244h2v1h-2zM566 243h3v1h-3zM569 242h2v1h-2zM571 241h2v1h-2zM573 240h2v1h-2zM575 239h4v1h-4zM579 238h12v1h-12zM591 237h20v1h-20zM611 236h12v1h-12zM623 235h13v1h-13zM636 236h3v1h-3zM639 237h14v1h-14zM653 238h18v1h-18zM671 239h9v1h-9zM680 240h1v1h-1zM681 239h17v1h-17zM698 238h8v1h-8zM706 237h5v1h-5zM711 236h4v1h-4zM715 235h4v1h-4zM719 234h17v1h-17zM736 235h4v1h-4zM740 236h4v1h-4zM744 237h3v1h-3zM747 238h26v1h-26zM773 239h9v1h-9zM782 238h11v1h-11zM793 237h2v1h-2zM795 236h3v1h-3zM798 235h3v1h-3zM801 234h4v1h-4zM805 233h4v1h-4zM809 232h6v1h-6zM815 231h4v1h-4zM819 230h4v1h-4zM823 229h3v1h-3zM826 228h4v1h-4zM830 227h3v1h-3zM833 226h3v1h-3zM836 225h2v1h-2zM838 224h3v1h-3zM841 223h2v1h-2zM843 222h3v1h-3zM846 221h2v1h-2zM848 220h2v1h-2zM850 219h3v1h-3zM853 218h2v1h-2zM855 217h3v1h-3zM858 216h3v1h-3zM861 215h4v1h-4zM865 214h1v1h-1zM866 213h2v1h-2zM868 212h2v1h-2zM870 211h2v1h-2zM872 210h1v1h-1zM873 209h2v1h-2zM875 208h2v1h-2zM877 207h2v1h-2zM879 206h2v1h-2zM881 205h3v1h-3zM884 204h2v1h-2zM886 203h3v1h-3zM889 202h3v1h-3zM892 201h4v1h-4zM896 200h25v1h-25zM921 201h3v1h-3zM924 202h4v1h-4zM928 203h3v1h-3zM931 204h3v1h-3zM934 205h3v1h-3zM937 206h3v1h-3zM940 207h4v1h-4zM944 208h3v1h-3zM947 209h3v1h-3zM950 210h3v1h-3zM953 211h3v1h-3zM956 212h4v1h-4zM960 213h3v1h-3zM963 214h4v1h-4zM967 215h3v1h-3zM970 216h3v1h-3zM973 217h3v1h-3zM976 218h3v1h-3zM979 219h4v1h-4zM983 220h3v1h-3zM986 221h3v1h-3zM989 222h3v1h-3zM992 223h4v1h-4zM996 224h4v1h-4zM1000 225h5v1h-5zM1005 226h5v1h-5zM1010 227h4v1h-4zM1014 228h6v1h-6zM1020 227h6v1h-6zM1026 226h5v1h-5zM1031 225h10v1h-10zM1041 224h9v1h-9zM1050 223h10v1h-10zM1060 222h11v1h-11zM1071 221h11v1h-11zM1082 220h7v1h-7zM1089 219h16v1h-16zM1105 220h8v1h-8zM1113 221h3v1h-3zM1116 222h2v1h-2zM1117 223h3v1h-3zM1120 224h3v1h-3zM1123 225h2v1h-2zM1125 226h3v1h-3zM1128 227h3v1h-3zM1131 228h3v1h-3zM1134 229h2v1h-2zM1136 230h3v1h-3zM1139 231h3v1h-3zM1142 232h2v1h-2zM1144 233h3v1h-3zM1147 234h2v1h-2zM1149 235h2v1h-2zM1151 236h2v1h-2zM1152 237h1v1h-1zM1153 238h2v1h-2zM1155 239h2v1h-2zM1157 240h2v1h-2zM1159 241h1v1h-1zM1160 242h2v1h-2zM1162 243h2v1h-2zM1164 244h2v1h-2zM1166 245h2v1h-2zM1168 246h2v1h-2zM1170 247h1v1h-1zM1171 248h2v1h-2zM1173 249h2v1h-2zM1175 250h2v1h-2zM1177 251h5v1h-5zM1182 252h4v1h-4zM1186 253h2v1h-2zM1188 254h2v1h-2zM1190 255h2v1h-2zM1192 256h2v1h-2zM1194 257h3v1h-3zM1197 258h2v1h-2zM1199 259h2v1h-2zM1201 260h2v1h-2zM1203 261h3v1h-3zM1206 262h2v1h-2zM1208 263h2v1h-2zM1210 264h3v1h-3zM1213 265h2v1h-2zM1215 266h3v1h-3zM1218 267h3v1h-3zM1221 268h3v1h-3zM1224 269h4v1h-4zM1228 270h3v1h-3zM1231 271h4v1h-4zM1235 272h4v1h-4zM1239 273h5v1h-5zM1244 274h6v1h-6zM1250 275h5v1h-5zM1255 276h5v1h-5zM1260 277h5v1h-5zM1265 278h5v1h-5zM1270 279h4v1h-4zM1274 280h4v1h-4zM1278 281h4v1h-4zM1282 282h3v1h-3zM1285 283h3v1h-3zM1288 284h3v1h-3zM1291 285h3v1h-3zM1294 286h4v1h-4zM1298 287h4v1h-4zM1302 288h5v1h-5zM1307 289h4v1h-4zM1311 290h9v1h-9zM1320 291h14v1h-14zM1334 292h3v1h-3z"/>
<path shape-rendering="crispEdges" fill="#ffa500" d="M8 410h1v1h-1zM9 411h1v2h-1zM10 413h1v2h-1zM11 415h1v1h-1zM12 416h1v2h-1zM13 418h1v1h-1zM14 419h1v2h-1zM15 421h1v2h-1zM16 423h2v1h-2zM17 424h1v1h-1zM18 425h1v1h-1zM19 426h1v2h-1zM20 428h1v1h-1zM21 429h1v2h-1zM22 431h1v2h-1zM23 433h1v1h-1zM24 434h1v2h-1zM25 436h1v1h-1zM26 437h1v2h-1zM27 439h1v1h-1zM28 440h1v2h-1zM29 442h1v1h-1zM30 443h1v2h-1zM31 445h1v1h-1zM32 446h1v2h-1zM33 448h1v2h-1zM34 450h1v1h-1zM35 451h1v2h-1zM36 453h1v1h-1zM37 454h1v2h-1zM38 456h1v1h-1zM39 457h1v2h-1zM40 459h1v1h-1zM41 460h1v2h-1zM42 462h1v1h-1zM43 463h1v2h-1zM44 465h1v1h-1zM45 466h1v2h-1zM46 468h1v1h-1zM47 469h1v2h-1zM48 471h1v1h-1zM49 472h2v1h-2zM51 473h2v1h-2zM53 474h2v1h-2zM55 475h17v1h-17zM72 474h1v1h-1zM73 473h2v1h-2zM75 472h1v1h-1zM76 471h2v1h-2zM78 470h1v1h-1zM79 469h2v1h-2zM81 468h1v1h-1zM82 467h2v1h-2zM84 466h1v1h-1zM85 465h2v1h-2zM87 464h2v1h-2zM89 463h1v1h-1zM90 462h1v1h-1zM91 460h1v2h-1zM92 459h1v1h-1zM93 458h1v1h-1zM94 457h1v1h-1zM95 456h1v1h-1zM96 454h1v2h-1zM97 453h1v1h-1zM98 452h1v1h-1zM99 451h1v1h-1zM100 450h1v1h-1zM101 448h1v2h-1zM102 447h1v1h-1zM103 446h1v1h-1zM104 445h1v1h-1zM105 443h1v2h-1zM106 442h1v1h-1zM107 440h1v2h-1zM108 439h1v1h-1zM109 438h1v1h-1zM110 436h1v2h-1zM111 435h1v1h-1zM112 433h1v2h-1zM113 432h1v1h-1zM114 430h1v2h-1zM115 429h1v1h-1zM116 428h1v1h-1zM117 426h1v2h-1zM118 425h1v1h-1zM119 423h1v2h-1zM120 422h1v1h-1zM121 421h1v1h-1zM122 420h2v1h-2zM124 419h1v1h-1zM125 418h2v1h-2zM127 417h1v1h-1zM128 416h2v1h-2zM130 415h1v1h-1zM131 414h2v1h-2zM133 413h1v1h-1zM134 412h2v1h-2zM136 411h2v1h-2zM138 410h2v1h-2zM140 409h2v1h-2zM142 408h2v1h-2zM144 407h1v1h-1zM145 406h1v1h-1zM146 405h1v1h-1zM147 404h1v1h-1zM148 402h1v2h-1zM149 401h1v1h-1zM150 400h1v1h-1zM151 399h1v1h-1zM152 398h2v1h-2zM154 397h2v1h-2zM156 396h2v1h-2zM158 395h3v1h-3zM161 394h1v1h-1zM162 393h1v1h-1zM163 392h1v1h-1zM164 390h1v2h-1zM165 389h1v1h-1zM166 388h1v1h-1zM167 387h1v1h-1zM168 386h1v1h-1zM169 385h1v1h-1zM170 384h1v1h-1zM171 383h1v1h-1zM172 381h1v2h-1zM173 380h1v1h-1zM174 379h1v1h-1zM175 378h1v1h-1zM176 377h1v1h-1zM177 375h1v2h-1zM178 374h1v1h-1zM179 373h1v1h-1zM180 371h1v2h-1zM181 370h1v1h-1zM182 369h1v1h-1zM183 367h1v2h-1zM184 366h1v1h-1zM185 364h1v2h-1zM186 363h1v1h-1zM187 362h1v1h-1zM188 360h1v2h-1zM189 359h1v1h-1zM190 358h1v1h-1zM191 356h1v2h-1zM192 355h1v1h-1zM193 353h2v1h-2zM193 354h1v1h-1zM194 352h1v1h-1zM195 350h1v2h-1zM196 348h1v2h-1zM197 346h1v2h-1zM198 345h1v1h-1zM199 343h1v2h-1zM200 341h1v2h-1zM201 339h1v2h-1zM202 338h1v1h-1zM203 336h1v2h-1zM204 334h1v2h-1zM205 332h1v2h-1zM206 331h1v1h-1zM207 329h1v2h-1zM208 328h1v1h-1zM209 326h1v2h-1zM210 325h2v1h-2zM211 324h1v1h-1zM212 323h1v1h-1zM213 321h1v2h-1zM214 320h1v1h-1zM215 318h1v2h-1zM216 317h1v1h-1zM217 316h1v1h-1zM218 315h1v1h-1zM219 314h1v1h-1zM220 313h1v1h-1zM221 312h1v1h-1zM222 311h1v1h-1zM223 310h2v1h-2zM225 309h1v1h-1zM226 308h1v1h-1zM227 307h1v1h-1zM228 305h1v2h-1zM229 304h1v1h-1zM230 303h1v1h-1zM231 302h1v1h-1zM232 301h1v1h-1zM233 300h2v1h-2zM235 299h1v1h-1zM236 298h1v1h-1zM237 297h1v1h-1zM238 296h1v1h-1zM239 295h2v1h-2zM241 294h1v1h-1zM242 293h1v1h-1zM243 292h2v1h-2zM245 291h1v1h-1zM246 290h1v1h-1zM247 289h2v1h-2zM249 288h1v1h-1zM250 287h1v1h-1zM251 286h2v1h-2zM253 285h1v1h-1zM254 284h2v1h-2zM256 283h1v1h-1zM257 282h2v1h-2zM259 281h3v1h-3zM262 280h2v1h-2zM264 279h5v1h-5zM269 278h7v1h-7zM276 279h8v1h-8zM284 278h5v1h-5zM289 277h1v1h-1zM290 276h1v1h-1zM291 275h1v1h-1zM292 274h1v1h-1zM293 273h1v1h-1zM294 272h1v1h-1zM295 271h1v1h-1zM296 270h1v1h-1zM297 269h1v1h-1zM298 268h1v1h-1zM299 267h1v1h-1zM300 266h1v1h-1zM301 265h1v1h-1zM302 264h1v1h-1zM303 263h1v1h-1zM304 262h1v1h-1zM305 261h1v1h-1zM306 260h1v1h-1zM307 259h1v1h-1zM308 257h1v2h-1zM309 256h2v1h-2zM311 255h1v1h-1zM312 254h1v1h-1zM313 253h1v1h-1zM314 252h2v1h-2zM316 251h2v1h-2zM318 250h1v1h-1zM319 249h2v1h-2zM321 248h2v1h-2zM323 247h1v1h-1zM324 246h1v1h-1zM325 245h2v1h-2zM327 244h1v1h-1zM328 243h1v1h-1zM329 242h1v1h-1zM330 241h1v1h-1zM331 240h1v1h-1zM332 239h1v1h-1zM333 238h1v1h-1zM334 237h1v1h-1zM335 236h1v1h-1zM336 235h1v1h-1zM337 234h3v1h-3zM340 233h3v1h-3zM343 232h3v1h-3zM346 233h3v1h-3zM349 234h3v1h-3zM352 235h2v1h-2zM354 236h1v1h-1zM355 237h2v1h-2zM357 238h1v1h-1zM358 239h1v1h-1zM359 240h2v1h-2zM361 241h1v1h-1zM362 242h1v1h-1zM363 243h1v1h-1zM364 244h1v2h-1zM365 246h1v1h-1zM366 247h1v1h-1zM367 248h1v1h-1zM368 249h2v1h-2zM370 250h3v1h-3zM373 251h2v1h-2zM375 252h2v1h-2zM377 253h2v1h-2zM379 254h2v1h-2zM381 255h2v1h-2zM383 256h2v1h-2zM385 257h4v1h-4zM389 258h3v1h-3zM392 259h2v1h-2zM394 260h1v1h-1zM395 261h1v1h-1zM396 262h2v1h-2zM398 263h1v1h-1zM399 264h1v1h-1zM400 265h2v1h-2zM402 266h1v1h-1zM403 267h1v1h-1zM404 268h1v1h-1zM405 269h1v1h-1zM406 270h2v1h-2zM408 271h1v1h-1zM409 272h2v1h-2zM411 273h1v1h-1zM412 274h2v1h-2zM414 275h1v1h-1zM415 276h2v1h-2zM417 277h2v1h-2zM419 278h2v1h-2zM421 279h2v1h-2zM423 280h2v1h-2zM425 281h3v1h-3zM428 282h3v1h-3zM431 283h3v1h-3zM434 284h6v1h-6zM440 285h1v1h-1zM441 284h11v1h-11zM452 285h6v1h-6zM458 286h6v1h-6zM464 287h1v1h-1zM465 286h17v1h-17zM482 285h4v1h-4zM486 284h3v1h-3zM489 283h2v1h-2zM491 282h1v1h-1zM492 281h2v1h-2zM494 280h1v1h-1zM495 279h2v1h-2zM497 278h2v1h-2zM499 277h2v1h-2zM501 276h2v1h-2zM503 275h2v1h-2zM505 274h1v1h-1zM506 273h1v1h-1zM507 272h1v1h-1zM508 271h1v1h-1zM509 270h1v1h-1zM510 269h1v1h-1zM511 268h1v1h-1zM512 267h1v1h-1zM513 265h1v2h-1zM514 263h1v2h-1zM515 262h1v1h-1zM516 260h1v2h-1zM517 259h1v1h-1zM518 257h1v2h-1zM519 255h2v1h-2zM519 256h1v1h-1zM521 253h1v2h-1zM522 252h1v1h-1zM523 250h1v2h-1zM524 249h1v1h-1zM525 247h1v2h-1zM526 246h1v1h-1zM527 244h1v2h-1zM528 243h1v1h-1zM529 241h1v2h-1zM530 239h1v2h-1zM531 238h1v1h-1zM532 236h1v2h-1zM533 235h1v1h-1zM534 233h1v2h-1zM535 231h1v2h-1zM536 230h1v1h-1zM537 229h1v1h-1zM538 227h1v2h-1zM539 226h1v1h-1zM540 225h1v1h-1zM541 224h1v1h-1zM542 222h1v2h-1zM543 221h1v1h-1zM544 220h1v1h-1zM545 219h1v1h-1zM546 217h1v2h-1zM547 216h1v1h-1zM548 215h1v1h-1zM549 214h1v1h-1zM550 212h1v2h-1zM551 211h1v1h-1zM552 210h1v1h-1zM553 209h1v1h-1zM554 208h2v1h-2zM556 206h1v2h-1zM557 205h1v1h-1zM558 204h1v1h-1zM559 203h1v1h-1zM560 202h1v1h-1zM561 201h1v1h-1zM562 199h1v2h-1zM563 198h1v1h-1zM564 197h1v1h-1zM565 196h2v1h-2zM567 194h1v2h-1zM568 193h1v1h-1zM569 192h1v1h-1zM570 191h1v1h-1zM571 189h1v2h-1zM572 188h1v1h-1zM573 187h1v1h-1zM574 186h1v1h-1zM575 185h1v1h-1zM576 184h1v1h-1zM577 183h5v1h-5zM582 182h9v1h-9zM591 181h11v1h-11zM602 180h4v1h-4zM606 179h4v1h-4zM610 178h5v1h-5zM615 177h12v1h-12zM627 178h5v1h-5zM632 179h2v1h-2zM634 180h2v1h-2zM636 181h2v1h-2zM638 182h2v1h-2zM640 183h2v1h-2zM642 184h2v1h-2zM644 185h3v1h-3zM647 186h2v1h-2zM649 187h1v1h-1zM650 188h1v1h-1zM651 189h1v1h-1zM652 190h1v1h-1zM653 191h1v1h-1zM654 192h1v1h-1zM655 193h1v1h-1zM656 194h1v1h-1zM657 195h1v1h-1zM658 196h1v1h-1zM659 197h1v1h-1zM660 198h1v1h-1zM661 199h1v1h-1zM662 200h1v2h-1zM663 202h1v1h-1zM664 203h2v1h-2zM666 204h1v1h-1zM667 205h1v2h-1zM668 207h1v1h-1zM669 208h1v2h-1zM670 210h1v1h-1zM671 211h1v1h-1zM672 212h1v2h-1zM673 214h1v1h-1zM674 215h2v1h-2zM676 216h1v1h-1zM677 217h1v1h-1zM678 218h1v1h-1zM679 219h1v1h-1zM680 220h2v1h-2zM682 221h2v1h-2zM684 222h1v1h-1zM685 223h2v1h-2zM687 224h1v1h-1zM688 225h2v1h-2zM690 226h1v1h-1zM691 227h2v1h-2zM693 228h1v1h-1zM694 229h1v1h-1zM695 230h2v1h-2zM697 231h1v1h-1zM698 232h2v1h-2zM700 233h2v1h-2zM702 234h1v1h-1zM703 235h2v1h-2zM705 236h2v1h-2zM707 237h2v1h-2zM709 238h2v1h-2zM711 239h1v1h-1zM712 240h2v1h-2zM714 241h2v1h-2zM716 242h2v1h-2zM718 243h2v1h-2zM720 244h2v1h-2zM722 245h2v1h-2zM724 246h2v1h-2zM726 247h2v1h-2zM728 248h2v1h-2zM730 249h1v1h-1zM731 250h2v1h-2zM733 251h2v1h-2zM735 252h1v1h-1zM736 253h2v1h-2zM738 254h2v1h-2zM740 255h1v1h-1zM741 256h2v1h-2zM743 257h1v1h-1zM744 258h1v1h-1zM745 257h8v1h-8zM753 256h1v1h-1zM754 255h2v1h-2zM756 254h1v1h-1zM757 253h2v1h-2zM759 252h1v1h-1zM760 251h1v1h-1zM761 250h2v1h-2zM763 249h1v1h-1zM764 248h2v1h-2zM766 247h1v1h-1zM767 246h1v1h-1zM768 245h2v1h-2zM770 244h2v1h-2zM772 243h2v1h-2zM774 242h3v1h-3zM777 241h4v1h-4zM781 240h20v1h-20zM801 239h12v1h-12zM813 238h4v1h-4zM817 237h2v1h-2zM819 236h2v1h-2zM821 235h2v1h-2zM823 234h2v1h-2zM825 233h4v1h-4zM829 232h4v1h-4zM833 231h2v1h-2zM835 230h1v1h-1zM836 229h2v1h-2zM838 228h2v1h-2zM840 227h1v1h-1zM841 226h2v1h-2zM843 225h2v1h-2zM845 224h1v1h-1zM846 223h2v1h-2zM848 222h1v1h-1zM849 221h2v1h-2zM851 220h2v1h-2zM853 219h2v1h-2zM855 218h3v1h-3zM858 217h4v1h-4zM862 216h3v1h-3zM865 215h1v1h-1zM866 214h2v1h-2zM868 213h1v1h-1zM869 212h2v1h-2zM871 211h1v1h-1zM872 210h2v1h-2zM874 209h1v1h-1zM875 208h2v1h-2zM877 207h2v1h-2zM879 206h1v1h-1zM880 205h2v1h-2zM882 204h2v1h-2zM884 203h2v1h-2zM886 202h2v1h-2zM888 201h2v1h-2zM890 200h2v1h-2zM892 199h2v1h-2zM894 198h2v1h-2zM896 197h1v1h-1zM897 196h2v1h-2zM899 195h2v1h-2zM901 194h2v1h-2zM903 193h2v1h-2zM905 192h2v1h-2zM907 191h3v1h-3zM910 190h15v1h-15zM925 191h5v1h-5zM930 192h7v1h-7zM937 193h5v1h-5zM942 194h2v1h-2zM944 193h5v1h-5zM949 192h4v1h-4zM953 191h4v1h-4zM957 190h15v1h-15zM972 191h11v1h-11zM983 192h3v1h-3zM986 193h3v1h-3zM989 194h4v1h-4zM993 195h3v1h-3zM996 196h3v1h-3zM999 197h3v1h-3zM1002 198h3v1h-3zM1005 199h2v1h-2zM1007 200h2v1h-2zM1009 201h2v1h-2zM1010 202h2v1h-2zM1012 203h2v1h-2zM1014 204h2v1h-2zM1016 205h2v1h-2zM1018 206h2v1h-2zM1020 207h2v1h-2zM1022 208h1v1h-1zM1023 209h2v1h-2zM1025 210h2v1h-2zM1027 211h1v1h-1zM1028 212h2v1h-2zM1030 213h2v1h-2zM1032 214h1v1h-1zM1033 215h2v1h-2zM1035 216h2v1h-2zM1037 217h1v1h-1zM1038 218h2v1h-2zM1040 219h1v1h-1zM1041 220h2v1h-2zM1043 221h1v1h-1zM1044 222h1v1h-1zM1045 223h1v1h-1zM1046 224h2v1h-2zM1048 225h1v1h-1zM1049 226h2v1h-2zM1051 227h2v1h-2zM1053 228h2v1h-2zM1055 229h1v1h-1zM1056 230h4v1h-4zM1060 231h3v1h-3zM1063 232h3v1h-3zM1066 233h2v1h-2zM1068 234h3v1h-3zM1071 235h2v1h-2zM1073 236h3v1h-3zM1076 237h3v1h-3zM1079 238h4v1h-4zM1083 237h4v1h-4zM1087 236h10v1h-10zM1097 237h3v1h-3zM1100 238h2v1h-2zM1102 239h2v1h-2zM1104 240h2v1h-2zM1106 241h1v1h-1zM1107 242h1v1h-1zM1108 243h1v1h-1zM1109 244h1v1h-1zM1110 245h2v1h-2zM1112 246h1v1h-1zM1113 247h1v1h-1zM1114 248h1v2h-1zM1115 250h1v1h-1zM1116 251h1v1h-1zM1117 252h1v1h-1zM1118 253h1v1h-1zM1119 254h1v1h-1zM1120 255h1v1h-1zM1121 256h1v1h-1zM1122 257h1v2h-1zM1123 259h1v1h-1zM1124 260h1v1h-1zM1125 261h1v1h-1zM1126 262h1v2h-1zM1127 264h1v1h-1zM1128 265h1v1h-1zM1129 266h2v1h-2zM1131 267h1v1h-1zM1132 268h2v1h-2zM1134 269h1v1h-1zM1135 270h2v1h-2zM1137 271h1v1h-1zM1138 272h1v1h-1zM1139 273h2v1h-2zM1141 274h1v1h-1zM1142 275h2v1h-2zM1144 276h1v1h-1zM1145 277h1v1h-1zM1146 278h1v1h-1zM1147 279h1v1h-1zM1148 280h1v1h-1zM1149 281h1v1h-1zM1150 282h1v1h-1zM1151 283h1v1h-1zM1152 284h1v1h-1zM1153 285h1v1h-1zM1154 286h1v1h-1zM1155 287h1v1h-1zM1156 288h1v1h-1zM1157 289h1v1h-1zM1158 290h1v2h-1zM1159 292h1v1h-1zM1160 293h1v1h-1zM1161 294h1v1h-1zM1162 295h1v1h-1zM1162 296h2v1h-2zM1164 297h1v1h-1zM1165 298h1v1h-1zM1166 299h1v2h-1zM1167 301h1v1h-1zM1168 302h1v1h-1zM1169 303h1v1h-1zM1170 304h1v2h-1zM1171 306h1v1h-1zM1172 307h1v1h-1zM1173 308h1v1h-1zM1174 309h1v2h-1zM1175 311h1v1h-1zM1176 312h2v1h-2zM1178 313h1v2h-1zM1179 315h1v1h-1zM1180 316h1v1h-1zM1181 317h1v1h-1zM1182 318h1v2h-1zM1183 320h1v1h-1zM1184 321h1v1h-1zM1185 322h1v1h-1zM1186 323h1v2h-1zM1187 325h1v1h-1zM1188 326h1v1h-1zM1189 327h1v1h-1zM1190 328h1v1h-1zM1191 329h1v1h-1zM1192 330h1v1h-1zM1193 331h1v1h-1zM1194 332h1v1h-1zM1195 333h1v1h-1zM1196 334h2v1h-2zM1198 335h1v1h-1zM1199 336h1v1h-1zM1200 337h1v1h-1zM1201 338h1v1h-1zM1202 339h1v1h-1zM1203 340h1v1h-1zM1204 341h1v1h-1zM1205 342h1v1h-1zM1206 343h1v1h-1zM1207 344h1v1h-1zM1208 345h2v1h-2zM1210 346h1v1h-1zM1211 347h1v1h-1zM1212 348h1v1h-1zM1213 349h1v1h-1zM1214 350h2v1h-2zM1216 351h1v1h-1zM1217 352h1v1h-1zM1218 353h1v1h-1zM1219 354h1v1h-1zM1220 355h1v1h-1zM1221 356h1v1h-1zM1222 357h1v1h-1zM1223 358h1v1h-1zM1224 359h1v1h-1zM1225 360h1v1h-1zM1226 361h1v1h-1zM1227 362h2v1h-2zM1229 363h1v1h-1zM1230 364h1v1h-1zM1231 365h1v1h-1zM1232 366h1v1h-1zM1233 367h1v1h-1zM1234 368h1v1h-1zM1235 369h1v1h-1zM1236 370h2v1h-2zM1238 371h1v1h-1zM1239 372h1v1h-1zM1240 373h2v1h-2zM1242 374h1v1h-1zM1243 375h1v1h-1zM1244 376h2v1h-2zM1246 377h1v1h-1zM1247 378h2v1h-2zM1249 379h1v1h-1zM1250 380h2v1h-2zM1252 381h1v1h-1zM1253 382h2v1h-2zM1255 383h1v1h-1zM1256 384h3v1h-3zM1259 385h2v1h-2zM1261 386h3v1h-3zM1264 387h2v1h-2zM1266 386h7v1h-7zM1273 385h2v1h-2zM1275 384h2v1h-2zM1277 383h2v1h-2zM1279 382h2v1h-2zM1281 381h2v1h-2zM1283 380h2v1h-2zM1285 379h2v1h-2zM1287 378h2v1h-2zM1289 377h1v1h-1zM1290 376h2v1h-2zM1292 375h1v1h-1zM1293 374h2v1h-2zM1295 373h1v1h-1zM1296 372h2v1h-2zM1298 371h1v1h-1zM1299 370h2v1h-2zM1301 369h1v1h-1zM1302 368h1v1h-1zM1303 367h1v1h-1zM1304 366h1v1h-1zM1305 365h1v1h-1zM1306 364h1v1h-1zM1307 363h1v1h-1zM1308 362h1v1h-1zM1309 361h1v1h-1zM1310 359h1v2h-1zM1311 358h1v1h-1zM1312 356h1v2h-1zM1313 355h1v1h-1zM1314 354h1v1h-1zM1315 352h1v2h-1zM1316 351h1v1h-1zM1317 350h1v1h-1zM1318 348h1v2h-1zM1319 347h1v1h-1zM1320 345h1v2h-1zM1321 344h1v1h-1zM1322 342h1v2h-1zM1323 341h1v1h-1zM1324 339h1v2h-1zM1325 338h1v1h-1zM1326 336h1v2h-1zM1327 335h1v1h-1zM1328 333h1v2h-1zM1329 331h1v2h-1zM1330 330h1v1h-1zM1331 328h1v2h-1zM1332 326h1v2h-1zM1333 325h1v1h-1zM1334 323h1v2h-1zM1335 322h1v1h-1zM1336 321h1v1h-1z"/>
<text class="t9" x="1694.5" y="196">1911.30</text>
<g shape-rendering="crispEdges">
<rect x="8" y="195" width="1680" height="1" fill="#778899"/>
<rect x="8" y="198" width="1680" height="2" fill="#32cd32"/>
<rect x="8" y="477" width="1680" height="2" fill="#4169e1"/>
<rect x="1682" y="196" width="6" height="6" fill="#32cd32"/><rect x="1684" y="198" width="2" height="2" fill="#fff"/><rect x="8" y="196" width="5" height="6" fill="#32cd32"/><rect x="9" y="198" width="2" height="2" fill="#fff"/>
<rect x="1682" y="475" width="6" height="6" fill="#4169e1"/><rect x="1684" y="477" width="2" height="2" fill="#fff"/><rect x="8" y="475" width="5" height="6" fill="#4169e1"/><rect x="9" y="477" width="2" height="2" fill="#fff"/>
<rect x="1690" y="190" width="38" height="3" fill="#000"/><rect x="1690" y="193" width="38" height="11" fill="#32cd32"/><rect x="1690" y="472" width="38" height="11" fill="#4169e1"/>
</g>
<g shape-rendering="crispEdges" fill="#c0c0c0">
<rect x="8" y="646" width="1" height="82"/><rect x="16" y="646" width="1" height="77"/><rect x="24" y="646" width="1" height="74"/><rect x="32" y="646" width="1" height="72"/><rect x="40" y="646" width="1" height="70"/><rect x="48" y="646" width="1" height="64"/><rect x="56" y="646" width="1" height="56"/><rect x="64" y="646" width="1" height="45"/><rect x="72" y="646" width="1" height="36"/><rect x="80" y="646" width="1" height="28"/><rect x="88" y="646" width="1" height="22"/><rect x="96" y="646" width="1" height="14"/><rect x="104" y="646" width="1" height="7"/><rect x="120" y="640" width="1" height="7"/><rect x="128" y="638" width="1" height="9"/><rect x="136" y="638" width="1" height="9"/><rect x="144" y="639" width="1" height="8"/><rect x="152" y="635" width="1" height="12"/><rect x="160" y="636" width="1" height="11"/><rect x="168" y="636" width="1" height="11"/><rect x="176" y="635" width="1" height="12"/><rect x="184" y="632" width="1" height="15"/><rect x="192" y="628" width="1" height="19"/><rect x="200" y="621" width="1" height="26"/><rect x="208" y="619" width="1" height="28"/><rect x="216" y="618" width="1" height="29"/><rect x="224" y="621" width="1" height="26"/><rect x="232" y="617" width="1" height="30"/><rect x="240" y="615" width="1" height="32"/><rect x="248" y="617" width="1" height="30"/><rect x="256" y="618" width="1" height="29"/><rect x="264" y="619" width="1" height="28"/><rect x="272" y="625" width="1" height="22"/><rect x="280" y="629" width="1" height="18"/><rect x="288" y="629" width="1" height="18"/><rect x="296" y="624" width="1" height="23"/><rect x="304" y="621" width="1" height="26"/><rect x="312" y="620" width="1" height="27"/><rect x="320" y="618" width="1" height="29"/><rect x="328" y="619" width="1" height="28"/><rect x="336" y="616" width="1" height="31"/><rect x="344" y="621" width="1" height="26"/><rect x="352" y="631" width="1" height="16"/><rect x="360" y="642" width="1" height="5"/><rect x="368" y="646" width="1" height="3"/><rect x="376" y="646" width="1" height="5"/><rect x="384" y="646" width="1" height="8"/><rect x="392" y="646" width="1" height="12"/><rect x="400" y="646" width="1" height="14"/><rect x="408" y="646" width="1" height="15"/><rect x="416" y="646" width="1" height="17"/><rect x="424" y="646" width="1" height="16"/><rect x="432" y="646" width="1" height="14"/><rect x="440" y="646" width="1" height="13"/><rect x="448" y="646" width="1" height="12"/><rect x="456" y="646" width="1" height="9"/><rect x="464" y="646" width="1" height="1"/><rect x="472" y="640" width="1" height="7"/><rect x="480" y="634" width="1" height="13"/><rect x="488" y="626" width="1" height="21"/><rect x="496" y="617" width="1" height="30"/><rect x="504" y="610" width="1" height="37"/><rect x="512" y="606" width="1" height="41"/><rect x="520" y="603" width="1" height="44"/><rect x="528" y="603" width="1" height="44"/><rect x="536" y="603" width="1" height="44"/><rect x="544" y="604" width="1" height="43"/><rect x="552" y="604" width="1" height="43"/><rect x="560" y="611" width="1" height="36"/><rect x="568" y="614" width="1" height="33"/><rect x="576" y="615" width="1" height="32"/><rect x="584" y="628" width="1" height="19"/><rect x="592" y="639" width="1" height="8"/><rect x="608" y="646" width="1" height="5"/><rect x="616" y="646" width="1" height="10"/><rect x="624" y="646" width="1" height="11"/><rect x="632" y="646" width="1" height="11"/><rect x="640" y="646" width="1" height="12"/><rect x="648" y="646" width="1" height="13"/><rect x="656" y="646" width="1" height="14"/><rect x="664" y="646" width="1" height="13"/><rect x="672" y="646" width="1" height="16"/><rect x="680" y="646" width="1" height="13"/><rect x="688" y="646" width="1" height="11"/><rect x="696" y="646" width="1" height="8"/><rect x="704" y="646" width="1" height="6"/><rect x="712" y="646" width="1" height="2"/><rect x="728" y="646" width="1" height="2"/><rect x="736" y="646" width="1" height="2"/><rect x="744" y="646" width="1" height="3"/><rect x="752" y="646" width="1" height="4"/><rect x="768" y="645" width="1" height="2"/><rect x="776" y="644" width="1" height="3"/><rect x="800" y="646" width="1" height="2"/><rect x="808" y="646" width="1" height="2"/><rect x="824" y="645" width="1" height="2"/><rect x="832" y="644" width="1" height="3"/><rect x="840" y="643" width="1" height="4"/><rect x="848" y="638" width="1" height="9"/><rect x="856" y="634" width="1" height="13"/><rect x="864" y="632" width="1" height="15"/><rect x="872" y="627" width="1" height="20"/><rect x="880" y="624" width="1" height="23"/><rect x="888" y="623" width="1" height="24"/><rect x="896" y="626" width="1" height="21"/><rect x="904" y="626" width="1" height="21"/><rect x="912" y="628" width="1" height="19"/><rect x="920" y="636" width="1" height="11"/><rect x="928" y="641" width="1" height="6"/><rect x="936" y="644" width="1" height="3"/><rect x="944" y="646" width="1" height="1"/><rect x="968" y="646" width="1" height="5"/><rect x="976" y="646" width="1" height="7"/><rect x="984" y="646" width="1" height="10"/><rect x="992" y="646" width="1" height="13"/><rect x="1000" y="646" width="1" height="14"/><rect x="1008" y="646" width="1" height="13"/><rect x="1016" y="646" width="1" height="12"/><rect x="1024" y="646" width="1" height="11"/><rect x="1032" y="646" width="1" height="11"/><rect x="1040" y="646" width="1" height="9"/><rect x="1048" y="646" width="1" height="9"/><rect x="1056" y="646" width="1" height="9"/><rect x="1064" y="646" width="1" height="6"/><rect x="1072" y="646" width="1" height="5"/><rect x="1080" y="646" width="1" height="4"/><rect x="1088" y="646" width="1" height="3"/><rect x="1096" y="646" width="1" height="3"/><rect x="1104" y="646" width="1" height="9"/><rect x="1112" y="646" width="1" height="17"/><rect x="1120" y="646" width="1" height="25"/><rect x="1128" y="646" width="1" height="31"/><rect x="1136" y="646" width="1" height="34"/><rect x="1144" y="646" width="1" height="36"/><rect x="1152" y="646" width="1" height="41"/><rect x="1160" y="646" width="1" height="46"/><rect x="1168" y="646" width="1" height="49"/><rect x="1176" y="646" width="1" height="52"/><rect x="1184" y="646" width="1" height="49"/><rect x="1192" y="646" width="1" height="49"/><rect x="1200" y="646" width="1" height="45"/><rect x="1208" y="646" width="1" height="41"/><rect x="1216" y="646" width="1" height="37"/><rect x="1224" y="646" width="1" height="34"/><rect x="1232" y="646" width="1" height="31"/><rect x="1240" y="646" width="1" height="27"/><rect x="1248" y="646" width="1" height="20"/><rect x="1256" y="646" width="1" height="15"/><rect x="1264" y="646" width="1" height="9"/><rect x="1272" y="646" width="1" height="5"/><rect x="1280" y="646" width="1" height="1"/><rect x="1296" y="642" width="1" height="5"/><rect x="1304" y="635" width="1" height="12"/><rect x="1312" y="630" width="1" height="17"/><rect x="1320" y="623" width="1" height="24"/><rect x="1328" y="617" width="1" height="30"/><rect x="1336" y="615" width="1" height="32"/>
</g>
<path shape-rendering="crispEdges" fill="#ff0000" d="M8 744h1v1h-1zM9 743h2v1h-2zM14 740h2v1h-2zM16 739h1v1h-1zM20 737h2v1h-2zM22 736h1v1h-1zM26 734h2v1h-2zM28 733h1v1h-1zM32 731h2v1h-2zM34 730h1v1h-1zM38 729h1v1h-1zM39 728h2v1h-2zM44 726h1v1h-1zM45 725h2v1h-2zM50 723h1v1h-1zM51 722h2v1h-2zM56 720h1v1h-1zM57 719h2v1h-2zM62 717h1v1h-1zM63 716h2v1h-2zM68 713h1v1h-1zM69 712h1v1h-1zM70 711h1v1h-1zM74 708h1v1h-1zM75 707h2v1h-2zM80 703h2v1h-2zM82 702h1v1h-1zM86 699h2v1h-2zM88 698h1v1h-1zM92 694h1v1h-1zM93 693h2v1h-2zM98 689h1v1h-1zM99 688h1v1h-1zM100 687h1v1h-1zM104 684h1v1h-1zM105 683h1v1h-1zM106 682h1v1h-1zM110 678h1v1h-1zM111 677h1v1h-1zM112 676h1v1h-1zM116 672h1v1h-1zM117 671h1v1h-1zM118 670h1v1h-1zM122 667h1v1h-1zM123 666h1v1h-1zM124 665h1v1h-1zM128 662h1v1h-1zM129 661h1v1h-1zM130 660h1v1h-1zM134 657h1v1h-1zM135 656h2v1h-2zM140 654h1v1h-1zM141 653h1v1h-1zM142 652h1v1h-1zM146 650h1v1h-1zM147 649h2v1h-2zM152 646h1v1h-1zM153 645h1v1h-1zM154 644h1v1h-1zM158 642h2v1h-2zM160 641h1v1h-1zM164 640h3v1h-3zM170 639h1v1h-1zM171 638h2v1h-2zM176 637h3v1h-3zM182 635h3v1h-3zM188 634h3v1h-3zM194 633h3v1h-3zM200 632h3v1h-3zM206 631h1v1h-1zM207 630h2v1h-2zM212 629h2v1h-2zM214 628h1v1h-1zM218 628h1v1h-1zM219 627h2v1h-2zM224 627h1v1h-1zM225 626h2v1h-2zM230 625h1v1h-1zM231 624h2v1h-2zM236 623h1v1h-1zM237 622h2v1h-2zM242 621h3v1h-3zM248 620h3v1h-3zM254 618h3v1h-3zM260 617h3v1h-3zM266 617h3v1h-3zM272 618h3v1h-3zM278 619h3v1h-3zM284 619h1v1h-1zM285 620h2v1h-2zM290 620h2v1h-2zM292 621h1v1h-1zM296 621h3v1h-3zM302 621h3v1h-3zM308 622h3v1h-3zM314 622h3v1h-3zM320 622h3v1h-3zM326 622h3v1h-3zM332 622h3v1h-3zM338 622h3v1h-3zM344 621h3v1h-3zM350 621h3v1h-3zM356 622h3v1h-3zM362 623h2v1h-2zM364 624h1v1h-1zM368 625h1v1h-1zM369 626h2v1h-2zM374 628h1v1h-1zM375 629h2v1h-2zM380 631h1v1h-1zM381 632h2v1h-2zM386 634h1v1h-1zM387 635h1v1h-1zM388 636h1v1h-1zM392 638h3v1h-3zM398 640h1v1h-1zM399 641h2v1h-2zM404 644h1v1h-1zM405 645h1v1h-1zM406 646h1v1h-1zM410 648h1v1h-1zM411 649h2v1h-2zM416 652h2v1h-2zM418 653h1v1h-1zM422 655h2v1h-2zM424 656h1v1h-1zM428 657h3v1h-3zM434 658h3v1h-3zM440 659h3v1h-3zM446 660h3v1h-3zM452 660h3v1h-3zM458 660h1v1h-1zM459 659h2v1h-2zM464 659h1v1h-1zM465 658h2v1h-2zM470 656h3v1h-3zM476 654h3v1h-3zM482 652h1v1h-1zM483 651h2v1h-2zM488 649h1v1h-1zM489 648h2v1h-2zM494 646h1v1h-1zM495 645h1v1h-1zM496 644h1v1h-1zM500 641h1v1h-1zM501 640h1v1h-1zM502 639h1v1h-1zM506 636h2v1h-2zM508 635h1v1h-1zM512 632h1v1h-1zM513 631h1v1h-1zM514 630h1v1h-1zM518 627h2v1h-2zM520 626h1v1h-1zM524 623h1v1h-1zM525 622h1v1h-1zM526 621h1v1h-1zM530 618h2v1h-2zM532 617h1v1h-1zM536 615h1v1h-1zM537 614h2v1h-2zM542 612h1v1h-1zM543 611h2v1h-2zM548 609h3v1h-3zM554 608h1v1h-1zM555 607h2v1h-2zM560 606h3v1h-3zM566 605h3v1h-3zM572 606h3v1h-3zM578 607h3v1h-3zM584 608h1v1h-1zM585 609h2v1h-2zM590 611h1v1h-1zM591 612h2v1h-2zM596 615h2v1h-2zM598 616h1v1h-1zM602 619h2v1h-2zM604 620h1v1h-1zM608 623h1v1h-1zM609 624h2v1h-2zM614 627h1v1h-1zM615 628h1v1h-1zM616 629h1v1h-1zM620 631h1v1h-1zM621 632h2v1h-2zM626 635h1v1h-1zM627 636h1v1h-1zM628 637h1v1h-1zM632 640h2v1h-2zM634 641h1v1h-1zM638 643h1v1h-1zM639 644h2v1h-2zM644 647h1v1h-1zM645 648h1v1h-1zM646 649h1v1h-1zM650 651h3v1h-3zM656 652h1v1h-1zM657 653h2v1h-2zM662 655h1v1h-1zM663 656h2v1h-2zM668 657h3v1h-3zM674 658h3v1h-3zM680 659h3v1h-3zM686 659h3v1h-3zM692 658h3v1h-3zM698 658h3v1h-3zM704 658h2v1h-2zM706 657h1v1h-1zM710 657h3v1h-3zM716 656h3v1h-3zM722 655h2v1h-2zM724 654h1v1h-1zM728 654h3v1h-3zM734 653h3v1h-3zM740 652h2v1h-2zM742 651h1v1h-1zM746 651h2v1h-2zM748 650h1v1h-1zM752 650h3v1h-3zM758 649h3v1h-3zM764 648h3v1h-3zM770 648h1v1h-1zM771 647h2v1h-2zM776 647h3v1h-3zM782 647h3v1h-3zM788 647h3v1h-3zM794 647h3v1h-3zM800 647h3v1h-3zM806 647h3v1h-3zM812 647h3v1h-3zM818 647h2v1h-2zM820 646h1v1h-1zM824 646h3v1h-3zM830 646h3v1h-3zM836 646h3v1h-3zM842 645h3v1h-3zM848 645h3v1h-3zM854 644h3v1h-3zM860 643h1v1h-1zM861 642h2v1h-2zM866 641h3v1h-3zM872 640h2v1h-2zM874 639h1v1h-1zM878 638h1v1h-1zM879 637h2v1h-2zM884 636h1v1h-1zM885 635h2v1h-2zM890 634h1v1h-1zM891 633h2v1h-2zM896 631h3v1h-3zM902 629h3v1h-3zM908 628h3v1h-3zM914 628h3v1h-3zM920 628h3v1h-3zM926 628h3v1h-3zM932 629h3v1h-3zM938 630h3v1h-3zM944 632h3v1h-3zM950 633h2v1h-2zM952 634h1v1h-1zM956 635h1v1h-1zM957 636h2v1h-2zM962 638h3v1h-3zM968 640h3v1h-3zM974 642h1v1h-1zM975 643h2v1h-2zM980 645h3v1h-3zM986 647h3v1h-3zM992 649h3v1h-3zM998 650h1v1h-1zM999 651h2v1h-2zM1004 652h3v1h-3zM1010 653h3v1h-3zM1016 654h2v1h-2zM1018 655h1v1h-1zM1022 656h3v1h-3zM1028 657h3v1h-3zM1034 657h3v1h-3zM1040 657h3v1h-3zM1046 658h3v1h-3zM1052 657h3v1h-3zM1058 657h3v1h-3zM1064 657h2v1h-2zM1066 656h1v1h-1zM1070 656h3v1h-3zM1076 655h3v1h-3zM1082 655h2v1h-2zM1084 654h1v1h-1zM1088 654h3v1h-3zM1094 653h3v1h-3zM1100 652h3v1h-3zM1106 652h3v1h-3zM1112 653h3v1h-3zM1118 655h3v1h-3zM1124 656h3v1h-3zM1130 657h1v1h-1zM1131 658h2v1h-2zM1136 660h2v1h-2zM1138 661h1v1h-1zM1142 663h2v1h-2zM1144 664h1v1h-1zM1148 665h1v1h-1zM1149 666h2v1h-2zM1154 669h1v1h-1zM1155 670h2v1h-2zM1160 673h1v1h-1zM1161 674h2v1h-2zM1166 676h1v1h-1zM1167 677h1v1h-1zM1168 678h1v1h-1zM1172 680h1v1h-1zM1173 681h1v1h-1zM1174 682h1v1h-1zM1178 684h3v1h-3zM1184 685h2v1h-2zM1186 686h1v1h-1zM1190 688h1v1h-1zM1191 689h2v1h-2zM1196 690h3v1h-3zM1202 690h3v1h-3zM1208 691h3v1h-3zM1214 691h1v1h-1zM1215 692h2v1h-2zM1220 691h3v1h-3zM1226 690h3v1h-3zM1232 689h3v1h-3zM1238 687h3v1h-3zM1244 685h2v1h-2zM1246 684h1v1h-1zM1250 682h2v1h-2zM1252 681h1v1h-1zM1256 680h1v1h-1zM1257 679h2v1h-2zM1262 677h1v1h-1zM1263 676h2v1h-2zM1268 673h2v1h-2zM1270 672h1v1h-1zM1274 670h1v1h-1zM1275 669h2v1h-2zM1280 666h1v1h-1zM1281 665h2v1h-2zM1286 663h1v1h-1zM1287 662h2v1h-2zM1292 660h1v1h-1zM1293 659h2v1h-2zM1298 656h2v1h-2zM1300 655h1v1h-1zM1304 652h2v1h-2zM1306 651h1v1h-1zM1310 649h3v1h-3zM1316 646h2v1h-2zM1318 645h1v1h-1zM1322 642h2v1h-2zM1324 641h1v1h-1zM1328 637h2v1h-2zM1330 636h1v1h-1zM1334 635h1v1h-1zM1335 634h2v1h-2z"/>
<g shape-rendering="crispEdges">
<line x1="9" y1="790.5" x2="1688" y2="790.5" stroke="#c0c0c0" stroke-dasharray="3 3"/><line x1="9" y1="835.5" x2="1688" y2="835.5" stroke="#c0c0c0" stroke-dasharray="3 3"/>
</g>
<path shape-rendering="crispEdges" fill="#1e90ff" d="M8 830h1v1h-1zM9 829h2v1h-2zM11 828h2v1h-2zM13 827h2v1h-2zM15 826h6v1h-6zM21 827h9v1h-9zM30 828h8v1h-8zM38 829h3v1h-3zM41 828h1v1h-1zM42 827h1v1h-1zM43 826h1v1h-1zM44 825h2v1h-2zM46 824h1v1h-1zM47 823h1v1h-1zM48 822h1v1h-1zM49 821h1v1h-1zM50 820h1v1h-1zM51 819h2v1h-2zM53 818h1v1h-1zM54 817h1v1h-1zM55 816h1v1h-1zM56 815h2v1h-2zM58 814h1v1h-1zM59 813h2v1h-2zM61 812h1v1h-1zM62 811h2v1h-2zM64 810h3v1h-3zM67 809h22v1h-22zM89 808h3v1h-3zM92 807h3v1h-3zM95 806h2v1h-2zM97 805h3v1h-3zM100 804h2v1h-2zM102 803h3v1h-3zM105 802h1v1h-1zM106 801h2v1h-2zM108 800h2v1h-2zM110 799h2v1h-2zM112 798h4v1h-4zM116 799h5v1h-5zM121 800h1v1h-1zM122 801h1v1h-1zM123 802h1v1h-1zM124 803h1v1h-1zM125 804h1v1h-1zM126 805h1v1h-1zM127 806h1v1h-1zM128 807h5v1h-5zM133 808h5v1h-5zM138 809h2v1h-2zM140 810h2v1h-2zM142 811h2v1h-2zM144 812h1v1h-1zM145 811h1v1h-1zM146 809h1v2h-1zM147 808h1v1h-1zM148 807h1v1h-1zM149 806h1v1h-1zM150 804h1v2h-1zM151 803h1v1h-1zM152 802h1v1h-1zM153 803h1v1h-1zM154 804h1v1h-1zM155 805h1v1h-1zM156 806h1v2h-1zM157 808h1v1h-1zM158 809h1v1h-1zM159 810h1v1h-1zM160 811h3v1h-3zM163 810h6v1h-6zM169 809h2v1h-2zM171 808h2v1h-2zM173 807h2v1h-2zM175 806h3v1h-3zM178 805h2v1h-2zM180 804h3v1h-3zM183 803h2v1h-2zM185 802h3v1h-3zM188 801h2v1h-2zM190 800h3v1h-3zM193 799h1v1h-1zM194 798h2v1h-2zM196 797h1v1h-1zM197 796h2v1h-2zM199 795h1v1h-1zM200 794h1v1h-1zM201 795h1v1h-1zM202 796h1v1h-1zM203 797h2v1h-2zM205 798h1v1h-1zM206 799h1v1h-1zM207 800h1v1h-1zM208 801h6v1h-6zM214 802h3v1h-3zM217 803h1v1h-1zM218 804h1v1h-1zM219 805h1v1h-1zM220 806h1v1h-1zM221 807h1v1h-1zM222 808h1v1h-1zM223 809h1v1h-1zM224 810h1v1h-1zM225 809h1v1h-1zM226 807h1v2h-1zM227 806h1v1h-1zM228 805h1v1h-1zM229 804h1v1h-1zM230 802h1v2h-1zM231 801h1v1h-1zM232 800h7v1h-7zM239 801h2v1h-2zM241 802h2v1h-2zM243 803h1v1h-1zM244 804h1v1h-1zM245 805h1v1h-1zM246 806h1v1h-1zM247 807h1v1h-1zM248 808h2v1h-2zM250 807h4v1h-4zM254 806h11v1h-11zM265 807h1v1h-1zM266 808h1v1h-1zM267 809h1v1h-1zM268 810h1v1h-1zM269 811h1v1h-1zM270 812h1v1h-1zM271 813h1v1h-1zM272 814h4v1h-4zM276 815h5v1h-5zM281 814h1v1h-1zM282 813h1v1h-1zM283 812h1v1h-1zM284 811h1v1h-1zM285 810h1v1h-1zM286 809h1v1h-1zM287 808h1v1h-1zM288 807h1v1h-1zM289 806h2v1h-2zM291 805h1v1h-1zM292 804h1v1h-1zM293 803h1v1h-1zM294 802h1v1h-1zM295 801h1v1h-1zM296 800h2v1h-2zM298 801h3v1h-3zM301 802h2v1h-2zM303 803h3v1h-3zM306 802h3v1h-3zM309 801h11v1h-11zM320 802h3v1h-3zM323 803h2v1h-2zM325 804h3v1h-3zM328 805h1v1h-1zM329 804h1v1h-1zM330 803h2v1h-2zM332 802h1v1h-1zM333 801h2v1h-2zM335 800h1v1h-1zM336 799h1v1h-1zM337 800h1v2h-1zM338 802h1v2h-1zM339 804h1v1h-1zM340 805h1v2h-1zM341 807h1v1h-1zM342 808h1v1h-1zM343 809h1v2h-1zM344 811h1v1h-1zM345 812h1v1h-1zM346 813h1v2h-1zM347 815h1v1h-1zM348 816h1v1h-1zM349 817h1v1h-1zM350 818h1v1h-1zM350 819h2v1h-2zM352 820h1v1h-1zM353 821h1v1h-1zM354 822h2v1h-2zM356 823h2v1h-2zM358 824h2v1h-2zM360 825h2v1h-2zM362 824h4v1h-4zM366 823h3v1h-3zM369 822h1v1h-1zM370 821h1v1h-1zM371 820h1v1h-1zM372 819h2v1h-2zM374 818h1v1h-1zM375 817h1v1h-1zM376 816h3v1h-3zM379 817h5v1h-5zM384 818h3v1h-3zM387 819h3v1h-3zM390 820h7v1h-7zM397 819h15v1h-15zM412 820h5v1h-5zM417 819h2v1h-2zM419 818h2v1h-2zM421 817h1v1h-1zM422 816h2v1h-2zM424 815h5v1h-5zM429 814h5v1h-5zM434 815h3v1h-3zM437 816h2v1h-2zM439 817h2v1h-2zM441 816h2v1h-2zM443 815h2v1h-2zM445 814h1v1h-1zM446 813h2v1h-2zM448 812h3v1h-3zM451 811h6v1h-6zM457 809h1v2h-1zM458 808h1v1h-1zM459 806h1v2h-1zM460 805h1v1h-1zM461 803h1v2h-1zM462 802h1v1h-1zM463 801h1v1h-1zM464 800h1v1h-1zM465 799h5v1h-5zM470 798h12v1h-12zM482 797h1v1h-1zM483 796h2v1h-2zM485 795h2v1h-2zM487 794h2v1h-2zM489 793h2v1h-2zM491 792h1v1h-1zM492 791h2v1h-2zM494 790h2v1h-2zM496 789h10v1h-10zM506 790h3v1h-3zM509 791h2v1h-2zM511 792h7v1h-7zM518 793h5v1h-5zM523 794h4v1h-4zM527 795h4v1h-4zM531 796h5v1h-5zM536 797h9v1h-9zM545 796h5v1h-5zM550 795h3v1h-3zM552 796h1v1h-1zM553 797h1v2h-1zM554 799h1v2h-1zM555 801h1v2h-1zM556 803h1v2h-1zM557 805h1v2h-1zM558 807h1v2h-1zM559 809h1v2h-1zM560 811h2v1h-2zM560 812h1v1h-1zM562 810h2v1h-2zM564 809h1v1h-1zM565 808h1v1h-1zM566 807h2v1h-2zM568 806h2v1h-2zM570 805h4v1h-4zM574 804h3v1h-3zM576 805h1v1h-1zM577 806h1v2h-1zM578 808h1v3h-1zM579 811h1v3h-1zM580 814h1v2h-1zM581 816h1v3h-1zM582 819h1v3h-1zM583 822h1v2h-1zM584 824h1v1h-1zM584 825h5v1h-5zM589 826h7v1h-7zM596 825h6v1h-6zM602 824h4v1h-4zM606 823h11v1h-11zM617 822h1v1h-1zM618 821h2v1h-2zM620 820h2v1h-2zM622 819h2v1h-2zM624 818h2v1h-2zM626 817h2v1h-2zM628 816h3v1h-3zM631 815h3v1h-3zM634 816h3v1h-3zM637 817h3v1h-3zM640 818h5v1h-5zM645 819h7v1h-7zM652 820h5v1h-5zM657 819h2v1h-2zM659 818h2v1h-2zM661 817h1v1h-1zM662 816h2v1h-2zM664 815h1v1h-1zM665 816h1v1h-1zM666 817h1v1h-1zM667 818h1v1h-1zM668 819h1v2h-1zM669 821h1v1h-1zM670 822h1v1h-1zM671 823h1v1h-1zM672 824h1v1h-1zM673 822h1v2h-1zM674 820h1v2h-1zM675 819h1v1h-1zM676 817h1v2h-1zM677 816h1v1h-1zM678 814h1v2h-1zM679 812h1v2h-1zM680 811h5v1h-5zM685 810h17v1h-17zM702 811h3v1h-3zM705 810h2v1h-2zM707 809h2v1h-2zM709 808h2v1h-2zM711 807h1v1h-1zM712 806h9v1h-9zM721 807h1v1h-1zM722 808h1v2h-1zM723 810h1v1h-1zM724 811h1v1h-1zM725 812h1v1h-1zM726 813h1v2h-1zM727 815h1v1h-1zM728 816h3v1h-3zM731 815h3v1h-3zM734 814h5v1h-5zM739 815h4v1h-4zM743 816h10v1h-10zM753 815h1v1h-1zM754 813h1v2h-1zM755 812h1v1h-1zM756 811h1v1h-1zM757 810h1v1h-1zM758 808h1v2h-1zM759 807h1v1h-1zM760 806h3v1h-3zM763 805h4v1h-4zM767 804h2v1h-2zM769 805h2v1h-2zM771 806h2v1h-2zM773 807h1v1h-1zM774 808h2v1h-2zM776 809h1v1h-1zM777 810h1v1h-1zM778 811h1v1h-1zM779 812h2v1h-2zM780 813h1v1h-1zM781 814h1v1h-1zM782 815h1v1h-1zM783 816h1v1h-1zM784 817h2v1h-2zM786 816h2v1h-2zM788 815h3v1h-3zM791 814h4v1h-4zM795 815h4v1h-4zM799 816h8v1h-8zM807 817h2v1h-2zM809 816h1v1h-1zM810 815h2v1h-2zM812 814h1v1h-1zM813 813h1v1h-1zM814 812h2v1h-2zM816 811h1v1h-1zM817 810h2v1h-2zM819 809h1v1h-1zM820 808h2v1h-2zM822 807h2v1h-2zM824 806h6v1h-6zM830 807h5v1h-5zM835 806h6v1h-6zM841 805h1v1h-1zM842 804h1v1h-1zM843 803h1v1h-1zM844 802h1v1h-1zM845 801h2v1h-2zM847 800h1v1h-1zM848 799h1v1h-1zM849 798h4v1h-4zM853 797h5v1h-5zM858 798h1v1h-1zM859 799h1v1h-1zM860 800h1v1h-1zM861 801h2v1h-2zM863 802h1v1h-1zM864 803h1v1h-1zM865 802h1v1h-1zM866 801h1v1h-1zM867 800h1v1h-1zM868 798h2v1h-2zM868 799h1v1h-1zM870 797h1v1h-1zM871 796h1v1h-1zM872 795h5v1h-5zM877 796h4v1h-4zM881 797h2v1h-2zM883 798h2v1h-2zM885 799h2v1h-2zM887 800h1v1h-1zM888 801h1v1h-1zM889 802h2v1h-2zM890 803h1v1h-1zM891 804h1v1h-1zM892 805h1v1h-1zM893 806h1v1h-1zM894 807h1v2h-1zM895 809h1v1h-1zM896 810h1v1h-1zM897 809h2v1h-2zM899 808h1v1h-1zM900 807h2v1h-2zM902 806h2v1h-2zM904 805h1v1h-1zM905 806h2v1h-2zM907 807h2v1h-2zM909 808h1v1h-1zM910 809h2v1h-2zM912 810h1v1h-1zM913 811h1v2h-1zM914 813h1v1h-1zM915 814h1v1h-1zM916 815h1v2h-1zM917 817h1v1h-1zM918 818h1v2h-1zM919 820h1v2h-1zM920 822h1v1h-1zM921 821h2v1h-2zM923 820h2v1h-2zM925 819h2v1h-2zM927 818h10v1h-10zM937 817h5v1h-5zM942 816h4v1h-4zM946 815h4v1h-4zM950 814h4v1h-4zM954 813h3v1h-3zM957 812h4v1h-4zM961 813h1v2h-1zM962 815h2v1h-2zM963 816h1v1h-1zM964 817h1v1h-1zM965 818h1v2h-1zM966 820h1v1h-1zM967 821h1v2h-1zM968 823h1v1h-1zM969 822h2v1h-2zM971 821h1v1h-1zM972 820h2v1h-2zM974 819h1v1h-1zM975 818h3v1h-3zM978 819h2v1h-2zM980 820h2v1h-2zM982 821h2v1h-2zM984 822h10v1h-10zM994 821h4v1h-4zM998 820h3v1h-3zM1001 819h2v1h-2zM1003 818h2v1h-2zM1005 817h2v1h-2zM1007 816h4v1h-4zM1011 815h8v1h-8zM1019 816h5v1h-5zM1024 817h9v1h-9zM1033 816h1v1h-1zM1034 815h1v1h-1zM1035 814h2v1h-2zM1037 813h1v1h-1zM1038 812h1v1h-1zM1039 811h3v1h-3zM1042 812h2v1h-2zM1044 813h2v1h-2zM1046 814h2v1h-2zM1048 815h6v1h-6zM1054 816h3v1h-3zM1057 815h1v1h-1zM1058 814h1v1h-1zM1059 813h1v1h-1zM1060 812h1v1h-1zM1061 811h2v1h-2zM1063 810h1v1h-1zM1064 809h6v1h-6zM1070 810h4v1h-4zM1074 811h3v1h-3zM1077 812h2v1h-2zM1079 813h3v1h-3zM1082 812h4v1h-4zM1086 811h8v1h-8zM1094 812h3v1h-3zM1097 813h1v2h-1zM1098 815h1v2h-1zM1099 817h1v2h-1zM1100 819h1v2h-1zM1101 821h1v1h-1zM1102 822h1v2h-1zM1103 824h1v2h-1zM1104 826h1v2h-1zM1105 828h1v1h-1zM1106 829h1v1h-1zM1107 830h1v1h-1zM1108 831h1v1h-1zM1109 832h2v1h-2zM1111 833h1v1h-1zM1112 834h1v1h-1zM1113 835h2v1h-2zM1115 836h2v1h-2zM1117 837h3v1h-3zM1120 838h1v1h-1zM1121 837h2v1h-2zM1123 836h2v1h-2zM1125 835h2v1h-2zM1127 834h2v1h-2zM1129 833h3v1h-3zM1132 832h2v1h-2zM1134 831h12v1h-12zM1146 832h1v1h-1zM1147 833h1v1h-1zM1148 834h2v1h-2zM1150 835h1v1h-1zM1151 836h1v1h-1zM1152 837h3v1h-3zM1155 838h2v1h-2zM1157 839h3v1h-3zM1160 840h2v1h-2zM1162 839h4v1h-4zM1166 838h11v1h-11zM1177 836h1v2h-1zM1178 835h1v1h-1zM1179 834h1v1h-1zM1180 832h1v2h-1zM1181 831h1v1h-1zM1182 830h1v1h-1zM1183 828h1v2h-1zM1184 827h2v1h-2zM1186 828h3v1h-3zM1189 829h3v1h-3zM1192 830h1v1h-1zM1193 829h1v1h-1zM1194 828h1v1h-1zM1195 827h1v1h-1zM1196 825h1v2h-1zM1197 824h1v1h-1zM1198 823h1v1h-1zM1199 822h1v1h-1zM1200 821h5v1h-5zM1205 820h7v1h-7zM1212 819h6v1h-6zM1218 820h3v1h-3zM1221 821h2v1h-2zM1223 822h2v1h-2zM1225 821h2v1h-2zM1227 820h1v1h-1zM1228 819h1v1h-1zM1229 818h2v1h-2zM1231 817h1v1h-1zM1232 816h2v1h-2zM1234 815h2v1h-2zM1236 814h3v1h-3zM1239 813h2v1h-2zM1241 812h2v1h-2zM1243 811h2v1h-2zM1245 810h2v1h-2zM1247 809h2v1h-2zM1249 808h3v1h-3zM1252 807h3v1h-3zM1255 806h3v1h-3zM1258 805h2v1h-2zM1260 804h3v1h-3zM1263 803h12v1h-12zM1275 804h5v1h-5zM1280 805h2v1h-2zM1282 806h2v1h-2zM1284 807h2v1h-2zM1286 808h2v1h-2zM1288 809h1v1h-1zM1289 808h1v1h-1zM1290 806h1v2h-1zM1291 805h1v1h-1zM1292 804h1v1h-1zM1293 803h1v1h-1zM1294 801h2v1h-2zM1294 802h1v1h-1zM1296 800h1v1h-1zM1297 799h1v1h-1zM1298 798h1v1h-1zM1299 797h1v1h-1zM1300 796h1v1h-1zM1301 795h2v1h-2zM1303 794h1v1h-1zM1304 793h6v1h-6zM1310 794h3v1h-3zM1313 793h2v1h-2zM1315 792h1v1h-1zM1316 791h2v1h-2zM1318 790h2v1h-2zM1320 789h10v1h-10zM1330 790h1v1h-1zM1331 791h2v1h-2zM1333 792h2v1h-2zM1335 793h2v1h-2z"/>
<path d="M10.8 35 L18.4 35 L14.6 39.3 Z" fill="#000"/>
<text class="t9" x="22.8" y="39.7" style="letter-spacing:0.3px">XAUUSD-,H4</text><text class="t9" x="86.5" y="39.7">1914.06</text><text class="t9" x="122.7" y="39.7">1916.16</text><text class="t9" x="158.5" y="39.7">1909.15</text><text class="t9" x="194.5" y="39.7">1910.64</text>
<text class="t9" x="12" y="605.1" style="letter-spacing:0.27px">MACD(12,26,9)</text><text class="t9" x="80.8" y="605.1">6.108</text><text class="t9" x="106.8" y="605.1" style="letter-spacing:0.15px">2.487</text>
<text class="t9" x="12" y="766.2" style="letter-spacing:0.2px">RSI(14)</text><text class="t9" x="46.6" y="766.2" style="letter-spacing:0.15px">65.9106</text>
<text class="t9" x="1694.5" y="64">1932.45</text><text class="t9" x="1694.5" y="97">1927.20</text><text class="t9" x="1694.5" y="130">1921.80</text><text class="t9" x="1694.5" y="163">1916.55</text><text class="t9" x="1694.5" y="229">1905.75</text><text class="t9" x="1694.5" y="262">1900.50</text><text class="t9" x="1694.5" y="295">1895.10</text><text class="t9" x="1694.5" y="328">1889.85</text><text class="t9" x="1694.5" y="361">1884.45</text><text class="t9" x="1694.5" y="394">1879.20</text><text class="t9" x="1694.5" y="427">1873.80</text><text class="t9" x="1694.5" y="460">1868.55</text><text class="t9" x="1694.5" y="493">1863.15</text><text class="t9" x="1694.5" y="526">1857.90</text><text class="t9" x="1694.5" y="559">1852.50</text><text class="t9" x="1694.5" y="592">1847.25</text>
<text class="t9" x="1694.5" y="202" style="fill:#fff;stroke:#fff">1910.00</text><text class="t9" x="1694.5" y="481" style="fill:#fff;stroke:#fff">1865.00</text>
<text class="t9" x="1692" y="604">9.807</text><text class="t9" x="1692" y="650">0.00</text><text class="t9" x="1692" y="748.4">-19.822</text>
<text class="t9" x="1692.3" y="764.5">100</text><text class="t9" x="1691.3" y="793.6">70</text><text class="t9" x="1691.3" y="838.7">30</text><text class="t9" x="1692.3" y="866.6">0</text>
<text class="t9" x="7.5" y="883">25 Sep 2020</text><text class="t9" x="71.5" y="883">28 Sep 20:00</text><text class="t9" x="135.5" y="883">30 Sep 04:00</text><text class="t9" x="199.5" y="883">1 Oct 12:00</text><text class="t9" x="263.5" y="883">4 Oct 23:00</text><text class="t9" x="327.5" y="883">6 Oct 04:00</text><text class="t9" x="391.5" y="883">7 Oct 12:00</text><text class="t9" x="455.5" y="883">8 Oct 20:00</text><text class="t9" x="519.5" y="883">12 Oct 04:00</text><text class="t9" x="583.5" y="883">13 Oct 12:00</text><text class="t9" x="647.5" y="883">14 Oct 20:00</text><text class="t9" x="711.5" y="883">16 Oct 04:00</text><text class="t9" x="775.5" y="883">19 Oct 12:00</text><text class="t9" x="839.5" y="883">20 Oct 20:00</text><text class="t9" x="903.5" y="883">22 Oct 04:00</text><text class="t9" x="967.5" y="883">23 Oct 12:00</text><text class="t9" x="1031.5" y="883">26 Oct 20:00</text><text class="t9" x="1095.5" y="883">28 Oct 04:00</text><text class="t9" x="1159.5" y="883">29 Oct 12:00</text><text class="t9" x="1223.5" y="883">1 Nov 23:00</text><text class="t9" x="1287.5" y="883">3 Nov 04:00</text>
<text x="683.4 716 749.9 783 816.2" y="411.6" style="font-family:'Liberation Sans','Noto Sans CJK SC',sans-serif;font-size:34.5px;fill:#ec1c24">多空转折点</text>
<text transform="translate(850.8,410.8) scale(0.916,1)" x="0" y="0" style="font-size:38px;fill:#ec1c24">1910</text>
</svg>
</body></html>
